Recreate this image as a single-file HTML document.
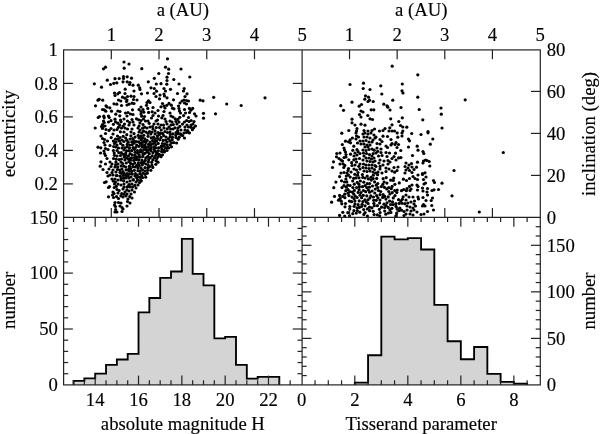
<!DOCTYPE html>
<html><head><meta charset="utf-8"><style>
html,body{margin:0;padding:0;background:#fff;width:600px;height:434px;overflow:hidden}
svg{display:block;will-change:transform}
text{font-family:"Liberation Serif",serif;font-size:18.7px;fill:#000;stroke:#000;stroke-width:0.15px}
</style></head><body>
<svg width="600" height="434" viewBox="0 0 600 434">
<rect width="600" height="434" fill="#fff"/>
<path d="M73.54,384.90 L73.54,380.90 L84.37,380.90 L84.37,378.40 L95.20,378.40 L95.20,373.65 L106.03,373.65 L106.03,364.90 L116.86,364.90 L116.86,359.50 L127.69,359.50 L127.69,353.90 L138.52,353.90 L138.52,312.40 L149.35,312.40 L149.35,298.00 L160.18,298.00 L160.18,277.90 L171.01,277.90 L171.01,271.50 L181.84,271.50 L181.84,238.80 L192.67,238.80 L192.67,273.80 L203.50,273.80 L203.50,285.30 L214.33,285.30 L214.33,338.40 L225.16,338.40 L225.16,336.90 L235.99,336.90 L235.99,364.80 L246.82,364.80 L246.82,378.60 L257.65,378.60 L257.65,376.80 L268.48,376.80 L268.48,376.80 L279.31,376.80 L279.31,384.90 Z" fill="#d4d4d4" stroke="none"/>
<path d="M73.54,384.90 L73.54,380.90 L84.37,380.90 L84.37,378.40 L95.20,378.40 L95.20,373.65 L106.03,373.65 L106.03,364.90 L116.86,364.90 L116.86,359.50 L127.69,359.50 L127.69,353.90 L138.52,353.90 L138.52,312.40 L149.35,312.40 L149.35,298.00 L160.18,298.00 L160.18,277.90 L171.01,277.90 L171.01,271.50 L181.84,271.50 L181.84,238.80 L192.67,238.80 L192.67,273.80 L203.50,273.80 L203.50,285.30 L214.33,285.30 L214.33,338.40 L225.16,338.40 L225.16,336.90 L235.99,336.90 L235.99,364.80 L246.82,364.80 L246.82,378.60 L257.65,378.60 L257.65,376.80 L268.48,376.80 L268.48,376.80 L279.31,376.80 L279.31,384.90" fill="none" stroke="#000" stroke-width="1.85" stroke-linejoin="miter"/>
<path d="M354.80,384.90 L354.80,382.60 L368.06,382.60 L368.06,355.20 L381.31,355.20 L381.31,236.60 L394.56,236.60 L394.56,239.40 L407.82,239.40 L407.82,238.10 L421.08,238.10 L421.08,249.50 L434.33,249.50 L434.33,304.90 L447.59,304.90 L447.59,341.20 L460.84,341.20 L460.84,359.20 L474.10,359.20 L474.10,347.00 L487.35,347.00 L487.35,373.90 L500.61,373.90 L500.61,381.80 L513.86,381.80 L513.86,383.60 L527.12,383.60 L527.12,384.90 Z" fill="#d4d4d4" stroke="none"/>
<path d="M354.80,384.90 L354.80,382.60 L368.06,382.60 L368.06,355.20 L381.31,355.20 L381.31,236.60 L394.56,236.60 L394.56,239.40 L407.82,239.40 L407.82,238.10 L421.08,238.10 L421.08,249.50 L434.33,249.50 L434.33,304.90 L447.59,304.90 L447.59,341.20 L460.84,341.20 L460.84,359.20 L474.10,359.20 L474.10,347.00 L487.35,347.00 L487.35,373.90 L500.61,373.90 L500.61,381.80 L513.86,381.80 L513.86,383.60 L527.12,383.60 L527.12,384.90" fill="none" stroke="#000" stroke-width="1.85" stroke-linejoin="miter"/>
<g fill="#000"><circle cx="103.5" cy="68.8" r="1.6"/><circle cx="105.5" cy="67.2" r="1.6"/><circle cx="107.3" cy="80.2" r="1.6"/><circle cx="115.0" cy="78.7" r="1.6"/><circle cx="119.2" cy="78.5" r="1.6"/><circle cx="94.3" cy="83.8" r="1.6"/><circle cx="101.5" cy="87.2" r="1.6"/><circle cx="110.5" cy="84.5" r="1.6"/><circle cx="113.8" cy="83.3" r="1.6"/><circle cx="116.8" cy="82.8" r="1.6"/><circle cx="124.0" cy="62.0" r="1.6"/><circle cx="129.0" cy="64.0" r="1.6"/><circle cx="124.2" cy="68.2" r="1.6"/><circle cx="141.8" cy="68.7" r="1.6"/><circle cx="167.5" cy="58.8" r="1.6"/><circle cx="165.5" cy="67.2" r="1.6"/><circle cx="168.7" cy="69.2" r="1.6"/><circle cx="158.8" cy="73.5" r="1.6"/><circle cx="168.5" cy="73.5" r="1.6"/><circle cx="123.5" cy="76.5" r="1.6"/><circle cx="123.5" cy="78.5" r="1.6"/><circle cx="127.2" cy="76.8" r="1.6"/><circle cx="131.5" cy="78.2" r="1.6"/><circle cx="123.0" cy="81.8" r="1.6"/><circle cx="127.2" cy="81.8" r="1.6"/><circle cx="130.0" cy="82.5" r="1.6"/><circle cx="129.5" cy="84.5" r="1.6"/><circle cx="133.0" cy="85.2" r="1.6"/><circle cx="138.3" cy="85.2" r="1.6"/><circle cx="139.7" cy="87.8" r="1.6"/><circle cx="140.0" cy="89.5" r="1.6"/><circle cx="125.2" cy="89.2" r="1.6"/><circle cx="134.0" cy="91.0" r="1.6"/><circle cx="148.3" cy="81.8" r="1.6"/><circle cx="154.3" cy="78.3" r="1.6"/><circle cx="156.3" cy="84.0" r="1.6"/><circle cx="161.0" cy="83.7" r="1.6"/><circle cx="167.0" cy="77.2" r="1.6"/><circle cx="167.0" cy="80.5" r="1.6"/><circle cx="166.8" cy="84.2" r="1.6"/><circle cx="173.8" cy="79.5" r="1.6"/><circle cx="179.0" cy="84.0" r="1.6"/><circle cx="151.0" cy="87.8" r="1.6"/><circle cx="154.3" cy="88.5" r="1.6"/><circle cx="164.0" cy="88.5" r="1.6"/><circle cx="170.5" cy="89.3" r="1.6"/><circle cx="156.5" cy="91.2" r="1.6"/><circle cx="165.5" cy="91.0" r="1.6"/><circle cx="181.0" cy="69.0" r="1.6"/><circle cx="189.8" cy="77.0" r="1.6"/><circle cx="184.2" cy="88.5" r="1.6"/><circle cx="183.5" cy="91.0" r="1.6"/><circle cx="98.0" cy="100.2" r="1.6"/><circle cx="99.2" cy="99.3" r="1.6"/><circle cx="102.7" cy="100.2" r="1.6"/><circle cx="95.5" cy="105.8" r="1.6"/><circle cx="106.0" cy="105.8" r="1.6"/><circle cx="107.0" cy="107.0" r="1.6"/><circle cx="109.8" cy="107.8" r="1.6"/><circle cx="102.5" cy="109.5" r="1.6"/><circle cx="104.2" cy="109.8" r="1.6"/><circle cx="105.8" cy="111.2" r="1.6"/><circle cx="111.5" cy="111.2" r="1.6"/><circle cx="114.5" cy="93.0" r="1.6"/><circle cx="115.0" cy="95.5" r="1.6"/><circle cx="117.8" cy="93.8" r="1.6"/><circle cx="119.5" cy="92.5" r="1.6"/><circle cx="122.5" cy="97.2" r="1.6"/><circle cx="118.5" cy="100.0" r="1.6"/><circle cx="120.8" cy="101.0" r="1.6"/><circle cx="114.0" cy="103.8" r="1.6"/><circle cx="116.8" cy="104.2" r="1.6"/><circle cx="121.5" cy="105.5" r="1.6"/><circle cx="117.8" cy="111.0" r="1.6"/><circle cx="120.0" cy="111.5" r="1.6"/><circle cx="115.8" cy="114.2" r="1.6"/><circle cx="119.8" cy="115.8" r="1.6"/><circle cx="98.2" cy="117.5" r="1.6"/><circle cx="99.5" cy="116.5" r="1.6"/><circle cx="103.8" cy="116.2" r="1.6"/><circle cx="104.2" cy="117.8" r="1.6"/><circle cx="108.5" cy="116.0" r="1.6"/><circle cx="109.2" cy="117.5" r="1.6"/><circle cx="115.0" cy="119.2" r="1.6"/><circle cx="115.5" cy="121.8" r="1.6"/><circle cx="120.5" cy="120.0" r="1.6"/><circle cx="121.0" cy="121.8" r="1.6"/><circle cx="103.5" cy="121.0" r="1.6"/><circle cx="104.2" cy="122.5" r="1.6"/><circle cx="108.5" cy="122.0" r="1.6"/><circle cx="102.5" cy="124.5" r="1.6"/><circle cx="101.5" cy="126.5" r="1.6"/><circle cx="103.0" cy="126.5" r="1.6"/><circle cx="105.0" cy="126.0" r="1.6"/><circle cx="102.5" cy="128.5" r="1.6"/><circle cx="95.2" cy="128.0" r="1.6"/><circle cx="111.0" cy="128.5" r="1.6"/><circle cx="114.0" cy="130.0" r="1.6"/><circle cx="117.0" cy="129.5" r="1.6"/><circle cx="121.5" cy="128.0" r="1.6"/><circle cx="106.0" cy="129.5" r="1.6"/><circle cx="125.0" cy="93.5" r="1.6"/><circle cx="141.5" cy="93.8" r="1.6"/><circle cx="147.5" cy="93.0" r="1.6"/><circle cx="154.0" cy="93.5" r="1.6"/><circle cx="156.0" cy="96.5" r="1.6"/><circle cx="160.0" cy="95.0" r="1.6"/><circle cx="164.0" cy="94.0" r="1.6"/><circle cx="164.5" cy="96.0" r="1.6"/><circle cx="167.0" cy="97.8" r="1.6"/><circle cx="177.5" cy="93.5" r="1.6"/><circle cx="159.5" cy="98.8" r="1.6"/><circle cx="173.5" cy="99.8" r="1.6"/><circle cx="127.5" cy="96.5" r="1.6"/><circle cx="131.0" cy="96.2" r="1.6"/><circle cx="134.0" cy="96.5" r="1.6"/><circle cx="125.0" cy="98.2" r="1.6"/><circle cx="127.0" cy="100.0" r="1.6"/><circle cx="133.5" cy="99.5" r="1.6"/><circle cx="137.0" cy="100.0" r="1.6"/><circle cx="126.5" cy="101.5" r="1.6"/><circle cx="148.5" cy="100.8" r="1.6"/><circle cx="147.0" cy="102.5" r="1.6"/><circle cx="150.0" cy="102.5" r="1.6"/><circle cx="182.0" cy="101.0" r="1.6"/><circle cx="132.0" cy="103.2" r="1.6"/><circle cx="134.0" cy="103.5" r="1.6"/><circle cx="127.0" cy="105.0" r="1.6"/><circle cx="129.0" cy="104.2" r="1.6"/><circle cx="162.5" cy="103.5" r="1.6"/><circle cx="180.0" cy="103.0" r="1.6"/><circle cx="153.0" cy="107.5" r="1.6"/><circle cx="161.0" cy="106.8" r="1.6"/><circle cx="164.0" cy="106.0" r="1.6"/><circle cx="165.0" cy="108.0" r="1.6"/><circle cx="172.5" cy="108.2" r="1.6"/><circle cx="174.0" cy="108.8" r="1.6"/><circle cx="178.5" cy="106.0" r="1.6"/><circle cx="179.0" cy="108.5" r="1.6"/><circle cx="141.0" cy="107.0" r="1.6"/><circle cx="132.5" cy="109.8" r="1.6"/><circle cx="139.0" cy="109.5" r="1.6"/><circle cx="143.0" cy="109.5" r="1.6"/><circle cx="141.0" cy="111.5" r="1.6"/><circle cx="158.0" cy="110.5" r="1.6"/><circle cx="164.0" cy="111.5" r="1.6"/><circle cx="179.5" cy="111.0" r="1.6"/><circle cx="180.5" cy="113.0" r="1.6"/><circle cx="125.5" cy="113.0" r="1.6"/><circle cx="128.0" cy="112.5" r="1.6"/><circle cx="130.5" cy="114.0" r="1.6"/><circle cx="133.0" cy="114.5" r="1.6"/><circle cx="127.0" cy="116.0" r="1.6"/><circle cx="141.0" cy="114.0" r="1.6"/><circle cx="155.0" cy="113.0" r="1.6"/><circle cx="153.0" cy="115.5" r="1.6"/><circle cx="158.5" cy="116.0" r="1.6"/><circle cx="163.0" cy="115.5" r="1.6"/><circle cx="170.0" cy="113.0" r="1.6"/><circle cx="171.0" cy="116.0" r="1.6"/><circle cx="173.0" cy="117.0" r="1.6"/><circle cx="144.5" cy="116.5" r="1.6"/><circle cx="151.5" cy="118.0" r="1.6"/><circle cx="136.5" cy="118.8" r="1.6"/><circle cx="124.0" cy="119.0" r="1.6"/><circle cx="127.5" cy="121.0" r="1.6"/><circle cx="132.0" cy="119.5" r="1.6"/><circle cx="133.0" cy="122.0" r="1.6"/><circle cx="141.0" cy="120.5" r="1.6"/><circle cx="143.5" cy="119.0" r="1.6"/><circle cx="145.5" cy="121.0" r="1.6"/><circle cx="148.0" cy="121.0" r="1.6"/><circle cx="156.0" cy="121.0" r="1.6"/><circle cx="157.5" cy="120.0" r="1.6"/><circle cx="165.0" cy="119.0" r="1.6"/><circle cx="166.0" cy="121.5" r="1.6"/><circle cx="170.0" cy="121.0" r="1.6"/><circle cx="172.0" cy="122.0" r="1.6"/><circle cx="176.0" cy="121.5" r="1.6"/><circle cx="179.0" cy="122.0" r="1.6"/><circle cx="124.5" cy="124.0" r="1.6"/><circle cx="129.0" cy="125.0" r="1.6"/><circle cx="134.0" cy="125.0" r="1.6"/><circle cx="140.0" cy="123.0" r="1.6"/><circle cx="139.0" cy="126.0" r="1.6"/><circle cx="143.0" cy="124.5" r="1.6"/><circle cx="154.0" cy="124.0" r="1.6"/><circle cx="158.0" cy="124.0" r="1.6"/><circle cx="161.0" cy="125.0" r="1.6"/><circle cx="167.0" cy="124.0" r="1.6"/><circle cx="171.0" cy="125.0" r="1.6"/><circle cx="177.0" cy="124.0" r="1.6"/><circle cx="125.0" cy="128.0" r="1.6"/><circle cx="127.5" cy="129.0" r="1.6"/><circle cx="132.0" cy="129.0" r="1.6"/><circle cx="138.0" cy="128.0" r="1.6"/><circle cx="140.0" cy="130.0" r="1.6"/><circle cx="147.0" cy="128.0" r="1.6"/><circle cx="150.0" cy="127.0" r="1.6"/><circle cx="153.0" cy="129.0" r="1.6"/><circle cx="159.5" cy="127.5" r="1.6"/><circle cx="164.0" cy="128.0" r="1.6"/><circle cx="169.0" cy="127.0" r="1.6"/><circle cx="173.0" cy="129.0" r="1.6"/><circle cx="178.0" cy="128.0" r="1.6"/><circle cx="181.0" cy="130.0" r="1.6"/><circle cx="124.0" cy="132.0" r="1.6"/><circle cx="131.0" cy="132.0" r="1.6"/><circle cx="139.0" cy="132.0" r="1.6"/><circle cx="146.0" cy="132.0" r="1.6"/><circle cx="152.0" cy="132.0" r="1.6"/><circle cx="158.0" cy="132.5" r="1.6"/><circle cx="165.0" cy="131.5" r="1.6"/><circle cx="170.0" cy="132.0" r="1.6"/><circle cx="176.0" cy="132.5" r="1.6"/><circle cx="187.0" cy="93.8" r="1.6"/><circle cx="185.0" cy="96.5" r="1.6"/><circle cx="184.0" cy="100.0" r="1.6"/><circle cx="186.5" cy="100.5" r="1.6"/><circle cx="188.5" cy="101.0" r="1.6"/><circle cx="184.5" cy="103.0" r="1.6"/><circle cx="186.5" cy="104.0" r="1.6"/><circle cx="200.2" cy="100.2" r="1.6"/><circle cx="203.0" cy="100.8" r="1.6"/><circle cx="213.7" cy="97.3" r="1.6"/><circle cx="226.7" cy="104.0" r="1.6"/><circle cx="241.2" cy="105.5" r="1.6"/><circle cx="184.5" cy="109.5" r="1.6"/><circle cx="185.5" cy="113.0" r="1.6"/><circle cx="189.5" cy="112.5" r="1.6"/><circle cx="194.5" cy="113.8" r="1.6"/><circle cx="196.0" cy="116.0" r="1.6"/><circle cx="203.5" cy="113.3" r="1.6"/><circle cx="215.5" cy="113.8" r="1.6"/><circle cx="203.5" cy="118.2" r="1.6"/><circle cx="188.5" cy="117.5" r="1.6"/><circle cx="184.5" cy="122.0" r="1.6"/><circle cx="189.0" cy="121.5" r="1.6"/><circle cx="194.0" cy="121.5" r="1.6"/><circle cx="193.0" cy="124.0" r="1.6"/><circle cx="195.5" cy="126.0" r="1.6"/><circle cx="187.0" cy="125.0" r="1.6"/><circle cx="185.0" cy="127.0" r="1.6"/><circle cx="188.5" cy="127.0" r="1.6"/><circle cx="191.0" cy="125.0" r="1.6"/><circle cx="185.0" cy="130.0" r="1.6"/><circle cx="187.5" cy="130.5" r="1.6"/><circle cx="186.5" cy="132.5" r="1.6"/><circle cx="184.0" cy="133.0" r="1.6"/><circle cx="265.0" cy="97.8" r="1.6"/><circle cx="105.5" cy="133.5" r="1.6"/><circle cx="113.0" cy="134.0" r="1.6"/><circle cx="101.0" cy="136.0" r="1.6"/><circle cx="102.5" cy="138.5" r="1.6"/><circle cx="104.5" cy="139.5" r="1.6"/><circle cx="107.5" cy="141.0" r="1.6"/><circle cx="115.5" cy="139.0" r="1.6"/><circle cx="117.5" cy="136.0" r="1.6"/><circle cx="120.0" cy="137.5" r="1.6"/><circle cx="119.5" cy="141.0" r="1.6"/><circle cx="104.0" cy="142.5" r="1.6"/><circle cx="105.0" cy="145.0" r="1.6"/><circle cx="110.0" cy="145.5" r="1.6"/><circle cx="114.5" cy="143.5" r="1.6"/><circle cx="117.0" cy="145.0" r="1.6"/><circle cx="98.0" cy="147.2" r="1.6"/><circle cx="100.8" cy="147.8" r="1.6"/><circle cx="105.5" cy="148.5" r="1.6"/><circle cx="108.0" cy="149.5" r="1.6"/><circle cx="116.0" cy="147.0" r="1.6"/><circle cx="118.5" cy="148.0" r="1.6"/><circle cx="122.0" cy="148.0" r="1.6"/><circle cx="104.0" cy="151.0" r="1.6"/><circle cx="117.0" cy="150.5" r="1.6"/><circle cx="100.5" cy="153.0" r="1.6"/><circle cx="104.5" cy="153.5" r="1.6"/><circle cx="105.5" cy="155.5" r="1.6"/><circle cx="114.2" cy="153.0" r="1.6"/><circle cx="117.0" cy="156.0" r="1.6"/><circle cx="120.5" cy="155.5" r="1.6"/><circle cx="107.0" cy="158.5" r="1.6"/><circle cx="113.5" cy="158.5" r="1.6"/><circle cx="121.5" cy="159.0" r="1.6"/><circle cx="101.0" cy="161.8" r="1.6"/><circle cx="105.5" cy="164.0" r="1.6"/><circle cx="110.0" cy="162.0" r="1.6"/><circle cx="112.0" cy="164.0" r="1.6"/><circle cx="118.0" cy="164.0" r="1.6"/><circle cx="121.0" cy="162.0" r="1.6"/><circle cx="100.2" cy="166.2" r="1.6"/><circle cx="111.0" cy="166.5" r="1.6"/><circle cx="115.0" cy="167.0" r="1.6"/><circle cx="103.0" cy="169.5" r="1.6"/><circle cx="109.0" cy="169.0" r="1.6"/><circle cx="113.0" cy="170.0" r="1.6"/><circle cx="117.5" cy="169.5" r="1.6"/><circle cx="122.0" cy="169.0" r="1.6"/><circle cx="107.0" cy="172.5" r="1.6"/><circle cx="112.0" cy="172.5" r="1.6"/><circle cx="116.0" cy="172.0" r="1.6"/><circle cx="120.0" cy="172.5" r="1.6"/><circle cx="104.5" cy="182.5" r="1.6"/><circle cx="106.2" cy="181.8" r="1.6"/><circle cx="108.5" cy="187.5" r="1.6"/><circle cx="109.5" cy="186.5" r="1.6"/><circle cx="108.5" cy="196.8" r="1.6"/><circle cx="108.0" cy="176.0" r="1.6"/><circle cx="113.0" cy="192.0" r="1.6"/><circle cx="112.5" cy="195.0" r="1.6"/><circle cx="114.0" cy="193.5" r="1.6"/><circle cx="113.5" cy="197.5" r="1.6"/><circle cx="117.0" cy="189.5" r="1.6"/><circle cx="118.0" cy="193.0" r="1.6"/><circle cx="118.5" cy="198.5" r="1.6"/><circle cx="114.5" cy="184.0" r="1.6"/><circle cx="115.5" cy="182.0" r="1.6"/><circle cx="112.0" cy="179.0" r="1.6"/><circle cx="115.0" cy="179.0" r="1.6"/><circle cx="118.0" cy="180.0" r="1.6"/><circle cx="121.0" cy="180.0" r="1.6"/><circle cx="110.0" cy="175.0" r="1.6"/><circle cx="113.0" cy="175.0" r="1.6"/><circle cx="117.0" cy="175.5" r="1.6"/><circle cx="120.0" cy="176.0" r="1.6"/><circle cx="123.0" cy="175.5" r="1.6"/><circle cx="115.0" cy="202.5" r="1.6"/><circle cx="114.5" cy="205.0" r="1.6"/><circle cx="115.5" cy="206.5" r="1.6"/><circle cx="118.5" cy="202.5" r="1.6"/><circle cx="121.0" cy="203.0" r="1.6"/><circle cx="120.0" cy="206.0" r="1.6"/><circle cx="122.0" cy="207.5" r="1.6"/><circle cx="123.0" cy="209.0" r="1.6"/><circle cx="122.0" cy="211.5" r="1.6"/><circle cx="115.0" cy="212.0" r="1.6"/><circle cx="117.0" cy="212.0" r="1.6"/><circle cx="127.5" cy="201.5" r="1.6"/><circle cx="130.0" cy="203.0" r="1.6"/><circle cx="127.0" cy="206.0" r="1.6"/><circle cx="132.0" cy="198.0" r="1.6"/><circle cx="121.0" cy="185.0" r="1.6"/><circle cx="124.0" cy="184.0" r="1.6"/><circle cx="127.0" cy="182.0" r="1.6"/><circle cx="130.0" cy="181.0" r="1.6"/><circle cx="133.0" cy="180.0" r="1.6"/><circle cx="136.0" cy="182.0" r="1.6"/><circle cx="126.0" cy="178.0" r="1.6"/><circle cx="131.0" cy="177.0" r="1.6"/><circle cx="135.0" cy="176.0" r="1.6"/><circle cx="139.0" cy="177.0" r="1.6"/><circle cx="123.0" cy="189.0" r="1.6"/><circle cx="125.0" cy="192.0" r="1.6"/><circle cx="127.0" cy="194.0" r="1.6"/><circle cx="129.0" cy="191.0" r="1.6"/><circle cx="132.0" cy="190.0" r="1.6"/><circle cx="134.5" cy="192.0" r="1.6"/><circle cx="136.0" cy="188.0" r="1.6"/><circle cx="138.0" cy="185.0" r="1.6"/><circle cx="123.0" cy="197.0" r="1.6"/><circle cx="126.0" cy="196.0" r="1.6"/><circle cx="130.0" cy="187.0" r="1.6"/><circle cx="127.0" cy="187.0" r="1.6"/><circle cx="124.0" cy="187.0" r="1.6"/><circle cx="132.0" cy="184.0" r="1.6"/><circle cx="128.0" cy="199.0" r="1.6"/><circle cx="146.5" cy="105.3" r="1.6"/><circle cx="169.0" cy="103.4" r="1.6"/><circle cx="166.8" cy="105.3" r="1.6"/><circle cx="171.3" cy="105.2" r="1.6"/><circle cx="141.7" cy="116.2" r="1.6"/><circle cx="148.6" cy="112.4" r="1.6"/><circle cx="147.8" cy="108.4" r="1.6"/><circle cx="143.8" cy="112.2" r="1.6"/><circle cx="152.2" cy="111.8" r="1.6"/><circle cx="161.8" cy="117.8" r="1.6"/><circle cx="179.8" cy="117.3" r="1.6"/><circle cx="190.9" cy="110.2" r="1.6"/><circle cx="189.4" cy="108.4" r="1.6"/><circle cx="192.7" cy="108.4" r="1.6"/><circle cx="183.6" cy="115.6" r="1.6"/><circle cx="111.0" cy="120.7" r="1.6"/><circle cx="138.6" cy="119.8" r="1.6"/><circle cx="175.2" cy="118.9" r="1.6"/><circle cx="177.8" cy="119.4" r="1.6"/><circle cx="186.6" cy="120.5" r="1.6"/><circle cx="191.1" cy="120.5" r="1.6"/><circle cx="113.4" cy="124.3" r="1.6"/><circle cx="119.7" cy="125.2" r="1.6"/><circle cx="117.8" cy="123.2" r="1.6"/><circle cx="118.4" cy="127.3" r="1.6"/><circle cx="123.2" cy="126.1" r="1.6"/><circle cx="129.7" cy="122.5" r="1.6"/><circle cx="149.2" cy="123.3" r="1.6"/><circle cx="152.6" cy="126.5" r="1.6"/><circle cx="144.7" cy="127.2" r="1.6"/><circle cx="156.3" cy="127.6" r="1.6"/><circle cx="163.5" cy="125.1" r="1.6"/><circle cx="173.3" cy="124.6" r="1.6"/><circle cx="179.8" cy="126.4" r="1.6"/><circle cx="182.5" cy="124.1" r="1.6"/><circle cx="175.0" cy="127.8" r="1.6"/><circle cx="193.7" cy="127.8" r="1.6"/><circle cx="191.0" cy="127.3" r="1.6"/><circle cx="109.1" cy="130.4" r="1.6"/><circle cx="120.4" cy="131.8" r="1.6"/><circle cx="141.7" cy="132.9" r="1.6"/><circle cx="134.0" cy="133.6" r="1.6"/><circle cx="142.6" cy="128.2" r="1.6"/><circle cx="143.6" cy="131.2" r="1.6"/><circle cx="147.9" cy="133.3" r="1.6"/><circle cx="149.5" cy="131.5" r="1.6"/><circle cx="161.2" cy="130.0" r="1.6"/><circle cx="162.6" cy="133.4" r="1.6"/><circle cx="155.0" cy="130.9" r="1.6"/><circle cx="155.1" cy="133.9" r="1.6"/><circle cx="160.4" cy="133.1" r="1.6"/><circle cx="167.5" cy="132.5" r="1.6"/><circle cx="170.6" cy="129.0" r="1.6"/><circle cx="167.2" cy="128.9" r="1.6"/><circle cx="172.9" cy="133.8" r="1.6"/><circle cx="177.6" cy="130.6" r="1.6"/><circle cx="180.4" cy="133.9" r="1.6"/><circle cx="178.0" cy="133.7" r="1.6"/><circle cx="178.0" cy="132.7" r="1.6"/><circle cx="192.4" cy="129.7" r="1.6"/><circle cx="189.4" cy="132.9" r="1.6"/><circle cx="188.0" cy="131.8" r="1.6"/><circle cx="111.2" cy="137.6" r="1.6"/><circle cx="123.2" cy="136.3" r="1.6"/><circle cx="125.7" cy="138.0" r="1.6"/><circle cx="126.8" cy="134.7" r="1.6"/><circle cx="130.9" cy="135.8" r="1.6"/><circle cx="138.2" cy="135.4" r="1.6"/><circle cx="142.5" cy="137.9" r="1.6"/><circle cx="135.1" cy="137.1" r="1.6"/><circle cx="140.9" cy="136.2" r="1.6"/><circle cx="139.0" cy="137.9" r="1.6"/><circle cx="150.8" cy="134.0" r="1.6"/><circle cx="151.2" cy="137.9" r="1.6"/><circle cx="143.8" cy="135.3" r="1.6"/><circle cx="148.1" cy="136.3" r="1.6"/><circle cx="153.6" cy="137.1" r="1.6"/><circle cx="161.0" cy="137.4" r="1.6"/><circle cx="157.5" cy="135.9" r="1.6"/><circle cx="159.5" cy="134.4" r="1.6"/><circle cx="153.7" cy="138.0" r="1.6"/><circle cx="172.5" cy="137.2" r="1.6"/><circle cx="166.1" cy="137.0" r="1.6"/><circle cx="170.1" cy="136.9" r="1.6"/><circle cx="163.7" cy="135.7" r="1.6"/><circle cx="170.3" cy="134.4" r="1.6"/><circle cx="179.3" cy="137.2" r="1.6"/><circle cx="176.0" cy="137.4" r="1.6"/><circle cx="182.6" cy="135.6" r="1.6"/><circle cx="175.7" cy="135.1" r="1.6"/><circle cx="181.4" cy="134.8" r="1.6"/><circle cx="184.5" cy="138.0" r="1.6"/><circle cx="120.6" cy="143.5" r="1.6"/><circle cx="116.1" cy="141.8" r="1.6"/><circle cx="122.9" cy="145.3" r="1.6"/><circle cx="113.4" cy="141.1" r="1.6"/><circle cx="121.9" cy="140.0" r="1.6"/><circle cx="118.0" cy="139.2" r="1.6"/><circle cx="113.7" cy="146.6" r="1.6"/><circle cx="128.2" cy="142.2" r="1.6"/><circle cx="132.3" cy="144.6" r="1.6"/><circle cx="129.5" cy="147.9" r="1.6"/><circle cx="127.2" cy="144.4" r="1.6"/><circle cx="124.8" cy="147.9" r="1.6"/><circle cx="130.0" cy="139.0" r="1.6"/><circle cx="131.8" cy="141.8" r="1.6"/><circle cx="132.7" cy="138.6" r="1.6"/><circle cx="123.9" cy="141.5" r="1.6"/><circle cx="127.1" cy="146.8" r="1.6"/><circle cx="133.0" cy="147.7" r="1.6"/><circle cx="126.7" cy="140.2" r="1.6"/><circle cx="129.7" cy="145.0" r="1.6"/><circle cx="136.2" cy="141.5" r="1.6"/><circle cx="134.2" cy="143.1" r="1.6"/><circle cx="139.0" cy="146.3" r="1.6"/><circle cx="142.8" cy="142.3" r="1.6"/><circle cx="141.3" cy="144.3" r="1.6"/><circle cx="141.2" cy="140.2" r="1.6"/><circle cx="136.7" cy="145.0" r="1.6"/><circle cx="138.5" cy="141.8" r="1.6"/><circle cx="142.2" cy="146.9" r="1.6"/><circle cx="133.9" cy="140.6" r="1.6"/><circle cx="135.8" cy="147.3" r="1.6"/><circle cx="142.6" cy="145.3" r="1.6"/><circle cx="140.9" cy="143.7" r="1.6"/><circle cx="141.3" cy="138.4" r="1.6"/><circle cx="140.2" cy="143.3" r="1.6"/><circle cx="147.2" cy="140.4" r="1.6"/><circle cx="151.3" cy="147.6" r="1.6"/><circle cx="146.2" cy="147.7" r="1.6"/><circle cx="148.5" cy="144.4" r="1.6"/><circle cx="152.6" cy="140.6" r="1.6"/><circle cx="150.1" cy="142.1" r="1.6"/><circle cx="145.8" cy="142.4" r="1.6"/><circle cx="144.9" cy="138.8" r="1.6"/><circle cx="152.5" cy="143.9" r="1.6"/><circle cx="148.5" cy="147.1" r="1.6"/><circle cx="145.1" cy="145.1" r="1.6"/><circle cx="150.3" cy="144.8" r="1.6"/><circle cx="150.5" cy="145.0" r="1.6"/><circle cx="144.3" cy="141.1" r="1.6"/><circle cx="144.6" cy="147.1" r="1.6"/><circle cx="158.2" cy="143.4" r="1.6"/><circle cx="161.4" cy="146.2" r="1.6"/><circle cx="154.0" cy="146.9" r="1.6"/><circle cx="158.6" cy="147.9" r="1.6"/><circle cx="156.5" cy="140.9" r="1.6"/><circle cx="162.4" cy="143.5" r="1.6"/><circle cx="155.8" cy="144.8" r="1.6"/><circle cx="159.7" cy="139.8" r="1.6"/><circle cx="157.5" cy="138.3" r="1.6"/><circle cx="163.0" cy="140.4" r="1.6"/><circle cx="154.6" cy="142.6" r="1.6"/><circle cx="155.1" cy="141.3" r="1.6"/><circle cx="155.9" cy="147.9" r="1.6"/><circle cx="154.8" cy="138.5" r="1.6"/><circle cx="161.3" cy="146.4" r="1.6"/><circle cx="165.6" cy="140.1" r="1.6"/><circle cx="170.0" cy="144.8" r="1.6"/><circle cx="167.1" cy="142.1" r="1.6"/><circle cx="171.6" cy="142.8" r="1.6"/><circle cx="167.0" cy="145.0" r="1.6"/><circle cx="169.9" cy="140.9" r="1.6"/><circle cx="165.6" cy="147.9" r="1.6"/><circle cx="171.5" cy="146.8" r="1.6"/><circle cx="168.4" cy="138.8" r="1.6"/><circle cx="164.9" cy="143.9" r="1.6"/><circle cx="163.8" cy="146.2" r="1.6"/><circle cx="172.2" cy="139.7" r="1.6"/><circle cx="168.7" cy="148.0" r="1.6"/><circle cx="167.7" cy="147.3" r="1.6"/><circle cx="176.6" cy="143.0" r="1.6"/><circle cx="178.2" cy="139.2" r="1.6"/><circle cx="173.9" cy="142.6" r="1.6"/><circle cx="121.3" cy="152.6" r="1.6"/><circle cx="118.7" cy="152.6" r="1.6"/><circle cx="114.4" cy="155.3" r="1.6"/><circle cx="113.4" cy="150.5" r="1.6"/><circle cx="123.9" cy="150.0" r="1.6"/><circle cx="124.2" cy="157.1" r="1.6"/><circle cx="132.2" cy="154.8" r="1.6"/><circle cx="125.8" cy="153.0" r="1.6"/><circle cx="131.7" cy="150.7" r="1.6"/><circle cx="123.3" cy="154.3" r="1.6"/><circle cx="128.5" cy="155.9" r="1.6"/><circle cx="130.1" cy="153.7" r="1.6"/><circle cx="126.6" cy="150.8" r="1.6"/><circle cx="131.5" cy="157.9" r="1.6"/><circle cx="125.7" cy="155.3" r="1.6"/><circle cx="126.6" cy="158.0" r="1.6"/><circle cx="129.0" cy="150.7" r="1.6"/><circle cx="137.0" cy="157.1" r="1.6"/><circle cx="142.2" cy="151.7" r="1.6"/><circle cx="139.2" cy="154.9" r="1.6"/><circle cx="135.1" cy="152.3" r="1.6"/><circle cx="140.6" cy="149.9" r="1.6"/><circle cx="135.0" cy="155.3" r="1.6"/><circle cx="142.6" cy="156.6" r="1.6"/><circle cx="134.4" cy="149.5" r="1.6"/><circle cx="137.4" cy="150.5" r="1.6"/><circle cx="142.9" cy="154.1" r="1.6"/><circle cx="139.6" cy="157.2" r="1.6"/><circle cx="134.3" cy="157.5" r="1.6"/><circle cx="137.5" cy="153.1" r="1.6"/><circle cx="139.6" cy="152.0" r="1.6"/><circle cx="145.2" cy="153.1" r="1.6"/><circle cx="147.9" cy="156.3" r="1.6"/><circle cx="152.9" cy="152.7" r="1.6"/><circle cx="145.8" cy="157.8" r="1.6"/><circle cx="146.4" cy="150.0" r="1.6"/><circle cx="149.3" cy="153.7" r="1.6"/><circle cx="152.3" cy="155.9" r="1.6"/><circle cx="143.8" cy="149.6" r="1.6"/><circle cx="148.7" cy="149.8" r="1.6"/><circle cx="147.4" cy="152.1" r="1.6"/><circle cx="150.8" cy="150.7" r="1.6"/><circle cx="150.3" cy="157.7" r="1.6"/><circle cx="143.8" cy="154.1" r="1.6"/><circle cx="150.6" cy="149.0" r="1.6"/><circle cx="147.9" cy="157.2" r="1.6"/><circle cx="156.6" cy="153.4" r="1.6"/><circle cx="155.4" cy="151.3" r="1.6"/><circle cx="154.4" cy="157.9" r="1.6"/><circle cx="161.6" cy="151.4" r="1.6"/><circle cx="159.3" cy="154.5" r="1.6"/><circle cx="158.2" cy="156.5" r="1.6"/><circle cx="155.6" cy="155.5" r="1.6"/><circle cx="158.4" cy="150.8" r="1.6"/><circle cx="161.7" cy="148.9" r="1.6"/><circle cx="161.0" cy="156.7" r="1.6"/><circle cx="162.5" cy="154.8" r="1.6"/><circle cx="154.0" cy="149.4" r="1.6"/><circle cx="157.7" cy="153.5" r="1.6"/><circle cx="159.7" cy="155.0" r="1.6"/><circle cx="167.0" cy="150.5" r="1.6"/><circle cx="164.5" cy="151.8" r="1.6"/><circle cx="163.2" cy="151.6" r="1.6"/><circle cx="163.9" cy="150.2" r="1.6"/><circle cx="121.1" cy="165.9" r="1.6"/><circle cx="115.9" cy="162.0" r="1.6"/><circle cx="115.6" cy="164.7" r="1.6"/><circle cx="122.7" cy="163.5" r="1.6"/><circle cx="119.2" cy="159.7" r="1.6"/><circle cx="116.2" cy="159.2" r="1.6"/><circle cx="117.7" cy="167.1" r="1.6"/><circle cx="128.9" cy="161.7" r="1.6"/><circle cx="125.8" cy="167.0" r="1.6"/><circle cx="124.9" cy="159.9" r="1.6"/><circle cx="129.4" cy="166.3" r="1.6"/><circle cx="132.9" cy="164.3" r="1.6"/><circle cx="126.3" cy="163.0" r="1.6"/><circle cx="130.8" cy="160.2" r="1.6"/><circle cx="130.6" cy="163.4" r="1.6"/><circle cx="132.8" cy="166.8" r="1.6"/><circle cx="128.7" cy="159.2" r="1.6"/><circle cx="123.7" cy="166.2" r="1.6"/><circle cx="129.8" cy="158.8" r="1.6"/><circle cx="129.9" cy="166.7" r="1.6"/><circle cx="134.8" cy="163.0" r="1.6"/><circle cx="136.8" cy="165.3" r="1.6"/><circle cx="141.9" cy="160.0" r="1.6"/><circle cx="140.9" cy="167.9" r="1.6"/><circle cx="136.4" cy="159.7" r="1.6"/><circle cx="141.2" cy="162.7" r="1.6"/><circle cx="133.8" cy="160.4" r="1.6"/><circle cx="138.4" cy="162.9" r="1.6"/><circle cx="135.2" cy="167.0" r="1.6"/><circle cx="138.7" cy="159.9" r="1.6"/><circle cx="142.3" cy="164.8" r="1.6"/><circle cx="139.2" cy="165.4" r="1.6"/><circle cx="137.9" cy="167.7" r="1.6"/><circle cx="136.3" cy="158.3" r="1.6"/><circle cx="146.0" cy="164.0" r="1.6"/><circle cx="148.4" cy="162.1" r="1.6"/><circle cx="151.7" cy="162.3" r="1.6"/><circle cx="149.9" cy="166.5" r="1.6"/><circle cx="152.8" cy="167.4" r="1.6"/><circle cx="143.6" cy="162.2" r="1.6"/><circle cx="145.0" cy="167.7" r="1.6"/><circle cx="145.3" cy="160.4" r="1.6"/><circle cx="148.1" cy="165.0" r="1.6"/><circle cx="152.8" cy="159.9" r="1.6"/><circle cx="148.1" cy="167.9" r="1.6"/><circle cx="152.0" cy="165.0" r="1.6"/><circle cx="148.7" cy="159.8" r="1.6"/><circle cx="143.7" cy="163.1" r="1.6"/><circle cx="148.0" cy="167.6" r="1.6"/><circle cx="158.0" cy="162.2" r="1.6"/><circle cx="155.8" cy="164.3" r="1.6"/><circle cx="156.1" cy="160.8" r="1.6"/><circle cx="156.9" cy="158.5" r="1.6"/><circle cx="122.9" cy="171.6" r="1.6"/><circle cx="119.9" cy="170.1" r="1.6"/><circle cx="121.1" cy="177.9" r="1.6"/><circle cx="116.4" cy="175.6" r="1.6"/><circle cx="121.4" cy="173.3" r="1.6"/><circle cx="132.3" cy="174.1" r="1.6"/><circle cx="129.0" cy="170.9" r="1.6"/><circle cx="130.7" cy="169.1" r="1.6"/><circle cx="129.5" cy="173.9" r="1.6"/><circle cx="128.8" cy="177.9" r="1.6"/><circle cx="126.1" cy="169.9" r="1.6"/><circle cx="127.0" cy="173.5" r="1.6"/><circle cx="131.6" cy="171.4" r="1.6"/><circle cx="124.3" cy="173.5" r="1.6"/><circle cx="125.6" cy="175.6" r="1.6"/><circle cx="127.9" cy="175.7" r="1.6"/><circle cx="128.4" cy="169.5" r="1.6"/><circle cx="129.7" cy="168.4" r="1.6"/><circle cx="137.3" cy="175.0" r="1.6"/><circle cx="141.7" cy="175.4" r="1.6"/><circle cx="137.9" cy="170.7" r="1.6"/><circle cx="134.3" cy="170.3" r="1.6"/><circle cx="143.0" cy="173.0" r="1.6"/><circle cx="139.9" cy="173.6" r="1.6"/><circle cx="135.4" cy="173.6" r="1.6"/><circle cx="140.2" cy="170.9" r="1.6"/><circle cx="142.6" cy="177.6" r="1.6"/><circle cx="136.7" cy="177.7" r="1.6"/><circle cx="142.5" cy="169.8" r="1.6"/><circle cx="140.3" cy="177.4" r="1.6"/><circle cx="145.0" cy="171.1" r="1.6"/><circle cx="145.7" cy="177.2" r="1.6"/><circle cx="147.3" cy="173.2" r="1.6"/><circle cx="147.6" cy="170.3" r="1.6"/><circle cx="150.8" cy="170.3" r="1.6"/><circle cx="145.1" cy="174.3" r="1.6"/><circle cx="118.0" cy="184.1" r="1.6"/><circle cx="113.2" cy="181.1" r="1.6"/><circle cx="116.3" cy="186.4" r="1.6"/><circle cx="114.3" cy="187.6" r="1.6"/><circle cx="123.6" cy="180.8" r="1.6"/><circle cx="129.3" cy="184.6" r="1.6"/><circle cx="132.5" cy="187.1" r="1.6"/><circle cx="123.7" cy="178.2" r="1.6"/><circle cx="128.1" cy="186.4" r="1.6"/><circle cx="129.0" cy="185.0" r="1.6"/><circle cx="140.6" cy="180.3" r="1.6"/><circle cx="134.8" cy="185.4" r="1.6"/><circle cx="139.5" cy="182.6" r="1.6"/><circle cx="137.6" cy="180.2" r="1.6"/><circle cx="133.4" cy="179.7" r="1.6"/><circle cx="141.3" cy="181.0" r="1.6"/><circle cx="121.7" cy="193.5" r="1.6"/><circle cx="120.9" cy="195.8" r="1.6"/><circle cx="119.1" cy="190.5" r="1.6"/><circle cx="116.5" cy="196.7" r="1.6"/><circle cx="131.0" cy="194.0" r="1.6"/><circle cx="129.7" cy="196.6" r="1.6"/><circle cx="126.9" cy="189.9" r="1.6"/><circle cx="124.0" cy="194.3" r="1.6"/><circle cx="115.6" cy="209.5" r="1.6"/></g>
<g fill="#000"><circle cx="350.0" cy="84.5" r="1.6"/><circle cx="392.2" cy="66.2" r="1.6"/><circle cx="417.8" cy="74.8" r="1.6"/><circle cx="363.5" cy="83.2" r="1.6"/><circle cx="363.2" cy="88.5" r="1.6"/><circle cx="370.0" cy="89.5" r="1.6"/><circle cx="380.8" cy="85.8" r="1.6"/><circle cx="402.3" cy="84.0" r="1.6"/><circle cx="402.0" cy="90.8" r="1.6"/><circle cx="352.0" cy="102.2" r="1.6"/><circle cx="340.8" cy="105.7" r="1.6"/><circle cx="343.5" cy="110.3" r="1.6"/><circle cx="359.2" cy="106.2" r="1.6"/><circle cx="361.5" cy="104.5" r="1.6"/><circle cx="361.0" cy="111.0" r="1.6"/><circle cx="359.5" cy="114.5" r="1.6"/><circle cx="361.0" cy="117.0" r="1.6"/><circle cx="352.0" cy="119.2" r="1.6"/><circle cx="352.0" cy="122.8" r="1.6"/><circle cx="355.0" cy="125.0" r="1.6"/><circle cx="357.0" cy="128.5" r="1.6"/><circle cx="361.0" cy="124.2" r="1.6"/><circle cx="348.8" cy="130.5" r="1.6"/><circle cx="356.5" cy="131.0" r="1.6"/><circle cx="381.8" cy="94.0" r="1.6"/><circle cx="403.0" cy="93.0" r="1.6"/><circle cx="417.8" cy="97.2" r="1.6"/><circle cx="365.5" cy="95.8" r="1.6"/><circle cx="368.5" cy="97.2" r="1.6"/><circle cx="364.8" cy="99.2" r="1.6"/><circle cx="369.5" cy="100.2" r="1.6"/><circle cx="368.0" cy="101.5" r="1.6"/><circle cx="373.2" cy="101.5" r="1.6"/><circle cx="392.8" cy="100.2" r="1.6"/><circle cx="383.8" cy="104.2" r="1.6"/><circle cx="387.0" cy="105.8" r="1.6"/><circle cx="387.8" cy="107.2" r="1.6"/><circle cx="390.0" cy="110.0" r="1.6"/><circle cx="401.0" cy="107.5" r="1.6"/><circle cx="419.2" cy="109.5" r="1.6"/><circle cx="371.2" cy="109.8" r="1.6"/><circle cx="373.8" cy="109.8" r="1.6"/><circle cx="363.0" cy="112.0" r="1.6"/><circle cx="367.8" cy="115.5" r="1.6"/><circle cx="370.0" cy="118.8" r="1.6"/><circle cx="372.5" cy="119.5" r="1.6"/><circle cx="390.7" cy="118.8" r="1.6"/><circle cx="402.3" cy="117.8" r="1.6"/><circle cx="398.8" cy="121.5" r="1.6"/><circle cx="365.0" cy="125.2" r="1.6"/><circle cx="392.0" cy="124.8" r="1.6"/><circle cx="400.5" cy="125.5" r="1.6"/><circle cx="402.8" cy="127.0" r="1.6"/><circle cx="406.8" cy="127.2" r="1.6"/><circle cx="385.0" cy="128.5" r="1.6"/><circle cx="389.8" cy="127.8" r="1.6"/><circle cx="374.5" cy="129.0" r="1.6"/><circle cx="364.0" cy="130.5" r="1.6"/><circle cx="368.0" cy="131.0" r="1.6"/><circle cx="372.0" cy="130.5" r="1.6"/><circle cx="379.5" cy="131.0" r="1.6"/><circle cx="383.0" cy="130.5" r="1.6"/><circle cx="389.0" cy="131.0" r="1.6"/><circle cx="392.0" cy="131.0" r="1.6"/><circle cx="394.5" cy="131.0" r="1.6"/><circle cx="402.8" cy="131.0" r="1.6"/><circle cx="465.2" cy="99.8" r="1.6"/><circle cx="441.0" cy="108.0" r="1.6"/><circle cx="441.3" cy="114.2" r="1.6"/><circle cx="422.8" cy="119.8" r="1.6"/><circle cx="442.0" cy="128.0" r="1.6"/><circle cx="428.0" cy="131.5" r="1.6"/><circle cx="356.0" cy="133.0" r="1.6"/><circle cx="356.5" cy="136.0" r="1.6"/><circle cx="356.0" cy="139.0" r="1.6"/><circle cx="358.5" cy="137.0" r="1.6"/><circle cx="360.0" cy="141.0" r="1.6"/><circle cx="357.5" cy="143.0" r="1.6"/><circle cx="361.0" cy="144.0" r="1.6"/><circle cx="345.5" cy="141.2" r="1.6"/><circle cx="348.5" cy="141.8" r="1.6"/><circle cx="350.5" cy="142.8" r="1.6"/><circle cx="342.3" cy="144.5" r="1.6"/><circle cx="353.8" cy="146.2" r="1.6"/><circle cx="344.0" cy="148.0" r="1.6"/><circle cx="344.5" cy="150.0" r="1.6"/><circle cx="345.5" cy="152.0" r="1.6"/><circle cx="352.8" cy="150.3" r="1.6"/><circle cx="336.8" cy="153.5" r="1.6"/><circle cx="340.0" cy="153.0" r="1.6"/><circle cx="346.0" cy="154.5" r="1.6"/><circle cx="350.5" cy="154.2" r="1.6"/><circle cx="355.0" cy="153.0" r="1.6"/><circle cx="354.0" cy="156.0" r="1.6"/><circle cx="357.0" cy="155.0" r="1.6"/><circle cx="360.0" cy="153.5" r="1.6"/><circle cx="336.5" cy="156.8" r="1.6"/><circle cx="339.0" cy="158.5" r="1.6"/><circle cx="344.0" cy="157.5" r="1.6"/><circle cx="346.0" cy="157.0" r="1.6"/><circle cx="348.8" cy="159.8" r="1.6"/><circle cx="341.0" cy="160.0" r="1.6"/><circle cx="342.5" cy="161.0" r="1.6"/><circle cx="356.0" cy="159.0" r="1.6"/><circle cx="359.5" cy="158.5" r="1.6"/><circle cx="333.5" cy="161.8" r="1.6"/><circle cx="340.0" cy="164.0" r="1.6"/><circle cx="343.0" cy="163.8" r="1.6"/><circle cx="356.5" cy="162.0" r="1.6"/><circle cx="352.0" cy="165.5" r="1.6"/><circle cx="355.0" cy="165.0" r="1.6"/><circle cx="360.0" cy="164.0" r="1.6"/><circle cx="332.5" cy="167.5" r="1.6"/><circle cx="343.8" cy="167.5" r="1.6"/><circle cx="348.5" cy="168.5" r="1.6"/><circle cx="348.0" cy="170.5" r="1.6"/><circle cx="354.0" cy="169.0" r="1.6"/><circle cx="356.5" cy="170.0" r="1.6"/><circle cx="360.0" cy="169.0" r="1.6"/><circle cx="341.0" cy="173.0" r="1.6"/><circle cx="344.0" cy="172.5" r="1.6"/><circle cx="347.0" cy="173.0" r="1.6"/><circle cx="351.0" cy="172.0" r="1.6"/><circle cx="358.0" cy="172.5" r="1.6"/><circle cx="402.0" cy="133.0" r="1.6"/><circle cx="402.0" cy="136.0" r="1.6"/><circle cx="411.7" cy="133.5" r="1.6"/><circle cx="421.0" cy="134.5" r="1.6"/><circle cx="397.8" cy="137.2" r="1.6"/><circle cx="408.5" cy="139.0" r="1.6"/><circle cx="409.5" cy="140.8" r="1.6"/><circle cx="396.0" cy="142.5" r="1.6"/><circle cx="398.5" cy="144.5" r="1.6"/><circle cx="395.0" cy="144.5" r="1.6"/><circle cx="397.0" cy="147.5" r="1.6"/><circle cx="408.5" cy="147.0" r="1.6"/><circle cx="417.2" cy="146.2" r="1.6"/><circle cx="418.0" cy="150.2" r="1.6"/><circle cx="400.8" cy="150.5" r="1.6"/><circle cx="395.5" cy="153.2" r="1.6"/><circle cx="412.5" cy="155.5" r="1.6"/><circle cx="417.5" cy="162.2" r="1.6"/><circle cx="406.0" cy="163.0" r="1.6"/><circle cx="409.0" cy="165.0" r="1.6"/><circle cx="411.5" cy="163.5" r="1.6"/><circle cx="405.0" cy="166.5" r="1.6"/><circle cx="408.0" cy="168.0" r="1.6"/><circle cx="412.0" cy="167.0" r="1.6"/><circle cx="416.5" cy="167.2" r="1.6"/><circle cx="406.0" cy="170.0" r="1.6"/><circle cx="409.5" cy="170.5" r="1.6"/><circle cx="405.0" cy="173.0" r="1.6"/><circle cx="412.0" cy="172.5" r="1.6"/><circle cx="414.0" cy="169.5" r="1.6"/><circle cx="383.0" cy="136.2" r="1.6"/><circle cx="387.5" cy="136.5" r="1.6"/><circle cx="391.0" cy="139.5" r="1.6"/><circle cx="380.0" cy="139.5" r="1.6"/><circle cx="382.0" cy="141.5" r="1.6"/><circle cx="377.0" cy="143.5" r="1.6"/><circle cx="380.0" cy="144.0" r="1.6"/><circle cx="386.0" cy="146.0" r="1.6"/><circle cx="387.5" cy="147.5" r="1.6"/><circle cx="391.0" cy="145.0" r="1.6"/><circle cx="392.0" cy="143.5" r="1.6"/><circle cx="377.0" cy="148.0" r="1.6"/><circle cx="381.0" cy="149.0" r="1.6"/><circle cx="376.0" cy="153.0" r="1.6"/><circle cx="381.0" cy="152.5" r="1.6"/><circle cx="386.0" cy="152.5" r="1.6"/><circle cx="389.5" cy="153.0" r="1.6"/><circle cx="378.5" cy="156.0" r="1.6"/><circle cx="382.0" cy="155.5" r="1.6"/><circle cx="387.0" cy="156.5" r="1.6"/><circle cx="394.0" cy="156.5" r="1.6"/><circle cx="392.0" cy="158.5" r="1.6"/><circle cx="396.0" cy="160.0" r="1.6"/><circle cx="380.0" cy="160.0" r="1.6"/><circle cx="384.0" cy="161.0" r="1.6"/><circle cx="388.0" cy="160.5" r="1.6"/><circle cx="379.0" cy="163.0" r="1.6"/><circle cx="383.0" cy="165.0" r="1.6"/><circle cx="388.0" cy="164.0" r="1.6"/><circle cx="390.0" cy="162.0" r="1.6"/><circle cx="394.0" cy="167.5" r="1.6"/><circle cx="398.0" cy="167.0" r="1.6"/><circle cx="386.0" cy="168.0" r="1.6"/><circle cx="389.0" cy="169.0" r="1.6"/><circle cx="380.0" cy="169.0" r="1.6"/><circle cx="376.0" cy="166.5" r="1.6"/><circle cx="392.0" cy="171.0" r="1.6"/><circle cx="386.0" cy="171.5" r="1.6"/><circle cx="397.0" cy="170.5" r="1.6"/><circle cx="378.0" cy="172.0" r="1.6"/><circle cx="382.0" cy="173.0" r="1.6"/><circle cx="363.0" cy="134.0" r="1.6"/><circle cx="365.0" cy="133.0" r="1.6"/><circle cx="368.0" cy="134.0" r="1.6"/><circle cx="371.0" cy="133.0" r="1.6"/><circle cx="374.0" cy="135.0" r="1.6"/><circle cx="376.0" cy="137.0" r="1.6"/><circle cx="364.0" cy="137.0" r="1.6"/><circle cx="367.0" cy="137.0" r="1.6"/><circle cx="370.0" cy="138.0" r="1.6"/><circle cx="373.0" cy="140.0" r="1.6"/><circle cx="375.0" cy="138.0" r="1.6"/><circle cx="363.0" cy="141.0" r="1.6"/><circle cx="366.0" cy="140.5" r="1.6"/><circle cx="369.0" cy="142.0" r="1.6"/><circle cx="372.0" cy="142.0" r="1.6"/><circle cx="364.0" cy="144.0" r="1.6"/><circle cx="367.0" cy="145.0" r="1.6"/><circle cx="370.0" cy="145.0" r="1.6"/><circle cx="365.0" cy="147.0" r="1.6"/><circle cx="368.0" cy="147.0" r="1.6"/><circle cx="363.0" cy="150.0" r="1.6"/><circle cx="366.0" cy="150.5" r="1.6"/><circle cx="369.0" cy="149.5" r="1.6"/><circle cx="372.0" cy="149.0" r="1.6"/><circle cx="363.5" cy="153.0" r="1.6"/><circle cx="366.5" cy="153.5" r="1.6"/><circle cx="369.5" cy="154.5" r="1.6"/><circle cx="372.0" cy="156.0" r="1.6"/><circle cx="364.0" cy="156.0" r="1.6"/><circle cx="366.0" cy="158.0" r="1.6"/><circle cx="369.0" cy="158.0" r="1.6"/><circle cx="371.5" cy="159.0" r="1.6"/><circle cx="374.0" cy="158.0" r="1.6"/><circle cx="363.0" cy="160.0" r="1.6"/><circle cx="367.0" cy="161.0" r="1.6"/><circle cx="370.0" cy="161.5" r="1.6"/><circle cx="373.0" cy="162.0" r="1.6"/><circle cx="375.0" cy="161.0" r="1.6"/><circle cx="363.5" cy="164.0" r="1.6"/><circle cx="366.0" cy="165.0" r="1.6"/><circle cx="369.0" cy="165.0" r="1.6"/><circle cx="372.0" cy="165.0" r="1.6"/><circle cx="375.0" cy="165.5" r="1.6"/><circle cx="363.0" cy="167.5" r="1.6"/><circle cx="366.0" cy="168.0" r="1.6"/><circle cx="369.0" cy="168.5" r="1.6"/><circle cx="372.0" cy="168.0" r="1.6"/><circle cx="374.5" cy="169.5" r="1.6"/><circle cx="364.0" cy="171.0" r="1.6"/><circle cx="367.0" cy="171.5" r="1.6"/><circle cx="370.0" cy="171.0" r="1.6"/><circle cx="373.0" cy="172.0" r="1.6"/><circle cx="375.5" cy="173.0" r="1.6"/><circle cx="428.0" cy="132.8" r="1.6"/><circle cx="432.8" cy="139.0" r="1.6"/><circle cx="430.3" cy="144.2" r="1.6"/><circle cx="423.0" cy="151.5" r="1.6"/><circle cx="423.8" cy="153.5" r="1.6"/><circle cx="423.5" cy="161.0" r="1.6"/><circle cx="425.5" cy="160.0" r="1.6"/><circle cx="423.0" cy="163.0" r="1.6"/><circle cx="427.0" cy="160.5" r="1.6"/><circle cx="429.2" cy="161.5" r="1.6"/><circle cx="429.8" cy="166.0" r="1.6"/><circle cx="454.0" cy="170.5" r="1.6"/><circle cx="425.0" cy="172.8" r="1.6"/><circle cx="422.5" cy="173.5" r="1.6"/><circle cx="503.3" cy="152.5" r="1.6"/><circle cx="442.0" cy="183.2" r="1.6"/><circle cx="438.5" cy="189.5" r="1.6"/><circle cx="452.0" cy="195.8" r="1.6"/><circle cx="433.5" cy="180.5" r="1.6"/><circle cx="434.5" cy="182.5" r="1.6"/><circle cx="432.0" cy="190.5" r="1.6"/><circle cx="434.0" cy="189.8" r="1.6"/><circle cx="427.5" cy="188.5" r="1.6"/><circle cx="427.0" cy="192.0" r="1.6"/><circle cx="427.5" cy="195.0" r="1.6"/><circle cx="432.5" cy="198.0" r="1.6"/><circle cx="431.2" cy="200.5" r="1.6"/><circle cx="431.8" cy="205.5" r="1.6"/><circle cx="433.5" cy="210.0" r="1.6"/><circle cx="427.5" cy="211.5" r="1.6"/><circle cx="426.0" cy="200.5" r="1.6"/><circle cx="423.0" cy="197.5" r="1.6"/><circle cx="423.5" cy="204.5" r="1.6"/><circle cx="425.0" cy="206.0" r="1.6"/><circle cx="422.5" cy="206.0" r="1.6"/><circle cx="424.0" cy="214.0" r="1.6"/><circle cx="421.0" cy="214.5" r="1.6"/><circle cx="417.0" cy="212.0" r="1.6"/><circle cx="418.0" cy="197.0" r="1.6"/><circle cx="418.5" cy="199.0" r="1.6"/><circle cx="414.5" cy="201.0" r="1.6"/><circle cx="413.0" cy="197.0" r="1.6"/><circle cx="423.0" cy="191.0" r="1.6"/><circle cx="422.5" cy="188.0" r="1.6"/><circle cx="424.0" cy="184.0" r="1.6"/><circle cx="425.5" cy="183.0" r="1.6"/><circle cx="426.0" cy="177.0" r="1.6"/><circle cx="423.5" cy="179.5" r="1.6"/><circle cx="417.5" cy="190.0" r="1.6"/><circle cx="417.0" cy="185.0" r="1.6"/><circle cx="418.0" cy="186.5" r="1.6"/><circle cx="412.0" cy="185.0" r="1.6"/><circle cx="411.0" cy="189.0" r="1.6"/><circle cx="410.0" cy="190.5" r="1.6"/><circle cx="407.0" cy="188.5" r="1.6"/><circle cx="406.5" cy="180.5" r="1.6"/><circle cx="409.5" cy="178.5" r="1.6"/><circle cx="413.0" cy="176.5" r="1.6"/><circle cx="415.0" cy="178.5" r="1.6"/><circle cx="417.5" cy="179.5" r="1.6"/><circle cx="418.0" cy="175.0" r="1.6"/><circle cx="422.5" cy="174.5" r="1.6"/><circle cx="406.0" cy="195.0" r="1.6"/><circle cx="409.0" cy="197.0" r="1.6"/><circle cx="406.0" cy="200.0" r="1.6"/><circle cx="411.0" cy="202.0" r="1.6"/><circle cx="414.0" cy="204.0" r="1.6"/><circle cx="407.0" cy="206.0" r="1.6"/><circle cx="410.0" cy="207.0" r="1.6"/><circle cx="413.0" cy="208.0" r="1.6"/><circle cx="415.5" cy="206.0" r="1.6"/><circle cx="407.0" cy="210.0" r="1.6"/><circle cx="411.0" cy="211.0" r="1.6"/><circle cx="414.0" cy="210.0" r="1.6"/><circle cx="406.0" cy="214.0" r="1.6"/><circle cx="410.0" cy="214.0" r="1.6"/><circle cx="413.0" cy="215.0" r="1.6"/><circle cx="479.3" cy="212.0" r="1.6"/><circle cx="341.8" cy="133.2" r="1.6"/><circle cx="397.2" cy="132.9" r="1.6"/><circle cx="350.1" cy="139.9" r="1.6"/><circle cx="352.4" cy="138.0" r="1.6"/><circle cx="357.0" cy="149.7" r="1.6"/><circle cx="358.1" cy="151.7" r="1.6"/><circle cx="373.2" cy="153.6" r="1.6"/><circle cx="374.1" cy="150.2" r="1.6"/><circle cx="377.7" cy="151.3" r="1.6"/><circle cx="398.6" cy="157.9" r="1.6"/><circle cx="400.9" cy="157.6" r="1.6"/><circle cx="344.8" cy="165.4" r="1.6"/><circle cx="358.8" cy="166.3" r="1.6"/><circle cx="353.8" cy="159.9" r="1.6"/><circle cx="351.6" cy="162.7" r="1.6"/><circle cx="380.1" cy="166.4" r="1.6"/><circle cx="339.6" cy="176.6" r="1.6"/><circle cx="348.4" cy="175.1" r="1.6"/><circle cx="346.3" cy="176.0" r="1.6"/><circle cx="354.8" cy="174.3" r="1.6"/><circle cx="356.0" cy="177.9" r="1.6"/><circle cx="350.2" cy="177.1" r="1.6"/><circle cx="357.6" cy="175.2" r="1.6"/><circle cx="359.0" cy="177.8" r="1.6"/><circle cx="367.2" cy="176.1" r="1.6"/><circle cx="365.1" cy="178.0" r="1.6"/><circle cx="362.8" cy="177.4" r="1.6"/><circle cx="362.4" cy="174.6" r="1.6"/><circle cx="377.6" cy="174.7" r="1.6"/><circle cx="373.3" cy="175.2" r="1.6"/><circle cx="371.0" cy="177.3" r="1.6"/><circle cx="386.2" cy="177.7" r="1.6"/><circle cx="393.7" cy="178.0" r="1.6"/><circle cx="394.7" cy="172.2" r="1.6"/><circle cx="335.9" cy="182.1" r="1.6"/><circle cx="333.8" cy="187.7" r="1.6"/><circle cx="346.3" cy="187.2" r="1.6"/><circle cx="347.8" cy="185.2" r="1.6"/><circle cx="344.0" cy="185.6" r="1.6"/><circle cx="341.5" cy="180.8" r="1.6"/><circle cx="344.5" cy="182.0" r="1.6"/><circle cx="345.9" cy="179.0" r="1.6"/><circle cx="346.8" cy="181.9" r="1.6"/><circle cx="342.0" cy="187.6" r="1.6"/><circle cx="353.7" cy="178.3" r="1.6"/><circle cx="354.3" cy="184.2" r="1.6"/><circle cx="352.7" cy="181.0" r="1.6"/><circle cx="352.9" cy="187.6" r="1.6"/><circle cx="357.3" cy="182.4" r="1.6"/><circle cx="350.1" cy="185.5" r="1.6"/><circle cx="356.6" cy="187.6" r="1.6"/><circle cx="359.4" cy="186.7" r="1.6"/><circle cx="358.9" cy="184.2" r="1.6"/><circle cx="363.8" cy="182.2" r="1.6"/><circle cx="365.1" cy="185.6" r="1.6"/><circle cx="368.4" cy="178.9" r="1.6"/><circle cx="360.4" cy="181.0" r="1.6"/><circle cx="369.7" cy="183.5" r="1.6"/><circle cx="362.5" cy="186.7" r="1.6"/><circle cx="369.4" cy="187.2" r="1.6"/><circle cx="367.3" cy="183.7" r="1.6"/><circle cx="366.8" cy="187.6" r="1.6"/><circle cx="376.2" cy="185.2" r="1.6"/><circle cx="377.8" cy="183.5" r="1.6"/><circle cx="372.5" cy="186.0" r="1.6"/><circle cx="371.3" cy="180.1" r="1.6"/><circle cx="373.2" cy="178.6" r="1.6"/><circle cx="376.7" cy="178.4" r="1.6"/><circle cx="377.8" cy="187.6" r="1.6"/><circle cx="374.6" cy="181.9" r="1.6"/><circle cx="384.4" cy="187.3" r="1.6"/><circle cx="384.1" cy="182.0" r="1.6"/><circle cx="388.8" cy="187.7" r="1.6"/><circle cx="382.8" cy="184.4" r="1.6"/><circle cx="383.1" cy="178.7" r="1.6"/><circle cx="381.3" cy="186.6" r="1.6"/><circle cx="386.9" cy="183.1" r="1.6"/><circle cx="394.9" cy="184.3" r="1.6"/><circle cx="393.3" cy="180.4" r="1.6"/><circle cx="399.3" cy="182.9" r="1.6"/><circle cx="390.7" cy="180.2" r="1.6"/><circle cx="392.1" cy="186.4" r="1.6"/><circle cx="403.4" cy="179.2" r="1.6"/><circle cx="409.5" cy="186.4" r="1.6"/><circle cx="339.6" cy="195.4" r="1.6"/><circle cx="334.5" cy="196.4" r="1.6"/><circle cx="344.7" cy="194.2" r="1.6"/><circle cx="344.9" cy="197.7" r="1.6"/><circle cx="348.9" cy="195.6" r="1.6"/><circle cx="348.0" cy="193.2" r="1.6"/><circle cx="349.9" cy="191.6" r="1.6"/><circle cx="348.0" cy="189.6" r="1.6"/><circle cx="342.7" cy="196.4" r="1.6"/><circle cx="345.8" cy="190.7" r="1.6"/><circle cx="353.7" cy="193.9" r="1.6"/><circle cx="355.2" cy="196.0" r="1.6"/><circle cx="360.0" cy="195.2" r="1.6"/><circle cx="352.0" cy="197.1" r="1.6"/><circle cx="358.1" cy="192.4" r="1.6"/><circle cx="357.1" cy="197.5" r="1.6"/><circle cx="354.4" cy="190.4" r="1.6"/><circle cx="359.1" cy="189.7" r="1.6"/><circle cx="352.3" cy="192.1" r="1.6"/><circle cx="365.7" cy="191.7" r="1.6"/><circle cx="361.6" cy="197.7" r="1.6"/><circle cx="368.4" cy="190.0" r="1.6"/><circle cx="363.3" cy="195.3" r="1.6"/><circle cx="363.4" cy="190.5" r="1.6"/><circle cx="369.6" cy="192.2" r="1.6"/><circle cx="366.8" cy="195.9" r="1.6"/><circle cx="369.9" cy="198.0" r="1.6"/><circle cx="361.0" cy="192.5" r="1.6"/><circle cx="380.0" cy="194.7" r="1.6"/><circle cx="378.4" cy="190.5" r="1.6"/><circle cx="377.9" cy="197.9" r="1.6"/><circle cx="372.1" cy="191.0" r="1.6"/><circle cx="374.8" cy="193.0" r="1.6"/><circle cx="370.8" cy="195.9" r="1.6"/><circle cx="376.7" cy="195.7" r="1.6"/><circle cx="373.4" cy="197.0" r="1.6"/><circle cx="375.3" cy="189.0" r="1.6"/><circle cx="384.7" cy="196.4" r="1.6"/><circle cx="386.7" cy="188.9" r="1.6"/><circle cx="388.2" cy="196.9" r="1.6"/><circle cx="388.8" cy="191.5" r="1.6"/><circle cx="383.1" cy="194.6" r="1.6"/><circle cx="380.7" cy="191.5" r="1.6"/><circle cx="389.9" cy="194.0" r="1.6"/><circle cx="382.6" cy="197.4" r="1.6"/><circle cx="397.2" cy="190.0" r="1.6"/><circle cx="395.0" cy="195.6" r="1.6"/><circle cx="391.3" cy="188.7" r="1.6"/><circle cx="394.7" cy="190.6" r="1.6"/><circle cx="396.8" cy="192.5" r="1.6"/><circle cx="392.2" cy="192.7" r="1.6"/><circle cx="393.3" cy="197.9" r="1.6"/><circle cx="401.5" cy="190.7" r="1.6"/><circle cx="406.4" cy="190.7" r="1.6"/><circle cx="403.1" cy="196.8" r="1.6"/><circle cx="403.7" cy="189.6" r="1.6"/><circle cx="331.6" cy="202.2" r="1.6"/><circle cx="338.5" cy="200.2" r="1.6"/><circle cx="345.5" cy="203.5" r="1.6"/><circle cx="341.8" cy="203.8" r="1.6"/><circle cx="341.2" cy="201.2" r="1.6"/><circle cx="345.0" cy="206.8" r="1.6"/><circle cx="349.4" cy="201.1" r="1.6"/><circle cx="349.9" cy="206.6" r="1.6"/><circle cx="340.1" cy="198.4" r="1.6"/><circle cx="358.1" cy="204.7" r="1.6"/><circle cx="351.6" cy="201.7" r="1.6"/><circle cx="354.1" cy="206.3" r="1.6"/><circle cx="354.9" cy="203.9" r="1.6"/><circle cx="359.2" cy="200.9" r="1.6"/><circle cx="354.9" cy="200.9" r="1.6"/><circle cx="359.3" cy="207.4" r="1.6"/><circle cx="354.0" cy="198.5" r="1.6"/><circle cx="357.0" cy="207.8" r="1.6"/><circle cx="361.5" cy="206.5" r="1.6"/><circle cx="368.0" cy="199.8" r="1.6"/><circle cx="365.0" cy="205.8" r="1.6"/><circle cx="369.5" cy="207.2" r="1.6"/><circle cx="366.3" cy="202.1" r="1.6"/><circle cx="362.1" cy="204.3" r="1.6"/><circle cx="368.1" cy="203.5" r="1.6"/><circle cx="364.9" cy="199.9" r="1.6"/><circle cx="362.9" cy="201.6" r="1.6"/><circle cx="373.7" cy="200.3" r="1.6"/><circle cx="371.9" cy="207.8" r="1.6"/><circle cx="376.2" cy="200.3" r="1.6"/><circle cx="377.4" cy="205.7" r="1.6"/><circle cx="379.6" cy="203.0" r="1.6"/><circle cx="373.9" cy="203.3" r="1.6"/><circle cx="374.3" cy="205.7" r="1.6"/><circle cx="380.0" cy="200.1" r="1.6"/><circle cx="389.6" cy="201.1" r="1.6"/><circle cx="385.9" cy="199.1" r="1.6"/><circle cx="388.2" cy="207.4" r="1.6"/><circle cx="384.6" cy="207.6" r="1.6"/><circle cx="387.0" cy="202.8" r="1.6"/><circle cx="384.0" cy="204.2" r="1.6"/><circle cx="381.6" cy="207.2" r="1.6"/><circle cx="386.0" cy="205.6" r="1.6"/><circle cx="399.2" cy="203.4" r="1.6"/><circle cx="399.8" cy="208.0" r="1.6"/><circle cx="392.5" cy="201.9" r="1.6"/><circle cx="398.5" cy="199.7" r="1.6"/><circle cx="390.6" cy="204.6" r="1.6"/><circle cx="396.0" cy="206.4" r="1.6"/><circle cx="395.9" cy="203.6" r="1.6"/><circle cx="393.2" cy="204.6" r="1.6"/><circle cx="407.8" cy="203.0" r="1.6"/><circle cx="402.0" cy="203.3" r="1.6"/><circle cx="404.8" cy="203.7" r="1.6"/><circle cx="400.8" cy="201.1" r="1.6"/><circle cx="402.3" cy="199.3" r="1.6"/><circle cx="339.6" cy="215.4" r="1.6"/><circle cx="342.8" cy="212.3" r="1.6"/><circle cx="347.8" cy="212.7" r="1.6"/><circle cx="344.7" cy="216.1" r="1.6"/><circle cx="349.7" cy="209.0" r="1.6"/><circle cx="349.5" cy="215.8" r="1.6"/><circle cx="357.3" cy="210.5" r="1.6"/><circle cx="356.3" cy="213.1" r="1.6"/><circle cx="353.9" cy="210.7" r="1.6"/><circle cx="352.8" cy="213.7" r="1.6"/><circle cx="359.8" cy="212.2" r="1.6"/><circle cx="363.9" cy="214.4" r="1.6"/><circle cx="367.4" cy="208.9" r="1.6"/><circle cx="363.7" cy="209.6" r="1.6"/><circle cx="365.1" cy="212.5" r="1.6"/><circle cx="367.4" cy="216.0" r="1.6"/><circle cx="369.6" cy="210.7" r="1.6"/><circle cx="374.1" cy="214.6" r="1.6"/><circle cx="379.4" cy="209.3" r="1.6"/><circle cx="379.7" cy="215.8" r="1.6"/><circle cx="373.2" cy="211.3" r="1.6"/><circle cx="377.3" cy="214.8" r="1.6"/><circle cx="388.4" cy="213.0" r="1.6"/><circle cx="384.7" cy="211.1" r="1.6"/><circle cx="380.1" cy="212.5" r="1.6"/><circle cx="385.8" cy="214.2" r="1.6"/><circle cx="389.9" cy="209.8" r="1.6"/><circle cx="391.9" cy="208.3" r="1.6"/><circle cx="390.9" cy="212.4" r="1.6"/><circle cx="395.8" cy="216.0" r="1.6"/><circle cx="397.1" cy="208.7" r="1.6"/><circle cx="398.9" cy="210.7" r="1.6"/><circle cx="396.6" cy="213.4" r="1.6"/><circle cx="401.4" cy="210.2" r="1.6"/><circle cx="404.0" cy="215.6" r="1.6"/><circle cx="404.0" cy="211.5" r="1.6"/></g>
<line x1="111.30" y1="49.90" x2="111.30" y2="59.20" stroke="#222" stroke-width="1.2"/>
<line x1="111.30" y1="217.40" x2="111.30" y2="208.10" stroke="#222" stroke-width="1.2"/>
<line x1="349.53" y1="49.90" x2="349.53" y2="59.20" stroke="#222" stroke-width="1.2"/>
<line x1="349.53" y1="217.40" x2="349.53" y2="208.10" stroke="#222" stroke-width="1.2"/>
<line x1="159.03" y1="49.90" x2="159.03" y2="59.20" stroke="#222" stroke-width="1.2"/>
<line x1="159.03" y1="217.40" x2="159.03" y2="208.10" stroke="#222" stroke-width="1.2"/>
<line x1="397.16" y1="49.90" x2="397.16" y2="59.20" stroke="#222" stroke-width="1.2"/>
<line x1="397.16" y1="217.40" x2="397.16" y2="208.10" stroke="#222" stroke-width="1.2"/>
<line x1="206.76" y1="49.90" x2="206.76" y2="59.20" stroke="#222" stroke-width="1.2"/>
<line x1="206.76" y1="217.40" x2="206.76" y2="208.10" stroke="#222" stroke-width="1.2"/>
<line x1="444.79" y1="49.90" x2="444.79" y2="59.20" stroke="#222" stroke-width="1.2"/>
<line x1="444.79" y1="217.40" x2="444.79" y2="208.10" stroke="#222" stroke-width="1.2"/>
<line x1="254.49" y1="49.90" x2="254.49" y2="59.20" stroke="#222" stroke-width="1.2"/>
<line x1="254.49" y1="217.40" x2="254.49" y2="208.10" stroke="#222" stroke-width="1.2"/>
<line x1="492.42" y1="49.90" x2="492.42" y2="59.20" stroke="#222" stroke-width="1.2"/>
<line x1="492.42" y1="217.40" x2="492.42" y2="208.10" stroke="#222" stroke-width="1.2"/>
<line x1="63.60" y1="183.90" x2="72.90" y2="183.90" stroke="#222" stroke-width="1.2"/>
<line x1="302.10" y1="183.90" x2="292.80" y2="183.90" stroke="#222" stroke-width="1.2"/>
<line x1="63.60" y1="150.40" x2="72.90" y2="150.40" stroke="#222" stroke-width="1.2"/>
<line x1="302.10" y1="150.40" x2="292.80" y2="150.40" stroke="#222" stroke-width="1.2"/>
<line x1="63.60" y1="116.90" x2="72.90" y2="116.90" stroke="#222" stroke-width="1.2"/>
<line x1="302.10" y1="116.90" x2="292.80" y2="116.90" stroke="#222" stroke-width="1.2"/>
<line x1="63.60" y1="83.40" x2="72.90" y2="83.40" stroke="#222" stroke-width="1.2"/>
<line x1="302.10" y1="83.40" x2="292.80" y2="83.40" stroke="#222" stroke-width="1.2"/>
<line x1="302.10" y1="175.40" x2="311.40" y2="175.40" stroke="#222" stroke-width="1.2"/>
<line x1="540.30" y1="175.40" x2="531.00" y2="175.40" stroke="#222" stroke-width="1.2"/>
<line x1="302.10" y1="133.40" x2="311.40" y2="133.40" stroke="#222" stroke-width="1.2"/>
<line x1="540.30" y1="133.40" x2="531.00" y2="133.40" stroke="#222" stroke-width="1.2"/>
<line x1="302.10" y1="91.40" x2="311.40" y2="91.40" stroke="#222" stroke-width="1.2"/>
<line x1="540.30" y1="91.40" x2="531.00" y2="91.40" stroke="#222" stroke-width="1.2"/>
<line x1="73.54" y1="217.40" x2="73.54" y2="222.00" stroke="#222" stroke-width="1.2"/>
<line x1="73.54" y1="384.90" x2="73.54" y2="380.30" stroke="#222" stroke-width="1.2"/>
<line x1="84.37" y1="217.40" x2="84.37" y2="222.00" stroke="#222" stroke-width="1.2"/>
<line x1="84.37" y1="384.90" x2="84.37" y2="380.30" stroke="#222" stroke-width="1.2"/>
<line x1="95.20" y1="217.40" x2="95.20" y2="226.70" stroke="#222" stroke-width="1.2"/>
<line x1="95.20" y1="384.90" x2="95.20" y2="375.60" stroke="#222" stroke-width="1.2"/>
<line x1="106.03" y1="217.40" x2="106.03" y2="222.00" stroke="#222" stroke-width="1.2"/>
<line x1="106.03" y1="384.90" x2="106.03" y2="380.30" stroke="#222" stroke-width="1.2"/>
<line x1="116.86" y1="217.40" x2="116.86" y2="222.00" stroke="#222" stroke-width="1.2"/>
<line x1="116.86" y1="384.90" x2="116.86" y2="380.30" stroke="#222" stroke-width="1.2"/>
<line x1="127.69" y1="217.40" x2="127.69" y2="222.00" stroke="#222" stroke-width="1.2"/>
<line x1="127.69" y1="384.90" x2="127.69" y2="380.30" stroke="#222" stroke-width="1.2"/>
<line x1="138.52" y1="217.40" x2="138.52" y2="226.70" stroke="#222" stroke-width="1.2"/>
<line x1="138.52" y1="384.90" x2="138.52" y2="375.60" stroke="#222" stroke-width="1.2"/>
<line x1="149.35" y1="217.40" x2="149.35" y2="222.00" stroke="#222" stroke-width="1.2"/>
<line x1="149.35" y1="384.90" x2="149.35" y2="380.30" stroke="#222" stroke-width="1.2"/>
<line x1="160.18" y1="217.40" x2="160.18" y2="222.00" stroke="#222" stroke-width="1.2"/>
<line x1="160.18" y1="384.90" x2="160.18" y2="380.30" stroke="#222" stroke-width="1.2"/>
<line x1="171.01" y1="217.40" x2="171.01" y2="222.00" stroke="#222" stroke-width="1.2"/>
<line x1="171.01" y1="384.90" x2="171.01" y2="380.30" stroke="#222" stroke-width="1.2"/>
<line x1="181.84" y1="217.40" x2="181.84" y2="226.70" stroke="#222" stroke-width="1.2"/>
<line x1="181.84" y1="384.90" x2="181.84" y2="375.60" stroke="#222" stroke-width="1.2"/>
<line x1="192.67" y1="217.40" x2="192.67" y2="222.00" stroke="#222" stroke-width="1.2"/>
<line x1="192.67" y1="384.90" x2="192.67" y2="380.30" stroke="#222" stroke-width="1.2"/>
<line x1="203.50" y1="217.40" x2="203.50" y2="222.00" stroke="#222" stroke-width="1.2"/>
<line x1="203.50" y1="384.90" x2="203.50" y2="380.30" stroke="#222" stroke-width="1.2"/>
<line x1="214.33" y1="217.40" x2="214.33" y2="222.00" stroke="#222" stroke-width="1.2"/>
<line x1="214.33" y1="384.90" x2="214.33" y2="380.30" stroke="#222" stroke-width="1.2"/>
<line x1="225.16" y1="217.40" x2="225.16" y2="226.70" stroke="#222" stroke-width="1.2"/>
<line x1="225.16" y1="384.90" x2="225.16" y2="375.60" stroke="#222" stroke-width="1.2"/>
<line x1="235.99" y1="217.40" x2="235.99" y2="222.00" stroke="#222" stroke-width="1.2"/>
<line x1="235.99" y1="384.90" x2="235.99" y2="380.30" stroke="#222" stroke-width="1.2"/>
<line x1="246.82" y1="217.40" x2="246.82" y2="222.00" stroke="#222" stroke-width="1.2"/>
<line x1="246.82" y1="384.90" x2="246.82" y2="380.30" stroke="#222" stroke-width="1.2"/>
<line x1="257.65" y1="217.40" x2="257.65" y2="222.00" stroke="#222" stroke-width="1.2"/>
<line x1="257.65" y1="384.90" x2="257.65" y2="380.30" stroke="#222" stroke-width="1.2"/>
<line x1="268.48" y1="217.40" x2="268.48" y2="226.70" stroke="#222" stroke-width="1.2"/>
<line x1="268.48" y1="384.90" x2="268.48" y2="375.60" stroke="#222" stroke-width="1.2"/>
<line x1="279.31" y1="217.40" x2="279.31" y2="222.00" stroke="#222" stroke-width="1.2"/>
<line x1="279.31" y1="384.90" x2="279.31" y2="380.30" stroke="#222" stroke-width="1.2"/>
<line x1="290.14" y1="217.40" x2="290.14" y2="222.00" stroke="#222" stroke-width="1.2"/>
<line x1="290.14" y1="384.90" x2="290.14" y2="380.30" stroke="#222" stroke-width="1.2"/>
<line x1="63.60" y1="373.72" x2="68.20" y2="373.72" stroke="#222" stroke-width="1.2"/>
<line x1="302.10" y1="373.72" x2="297.50" y2="373.72" stroke="#222" stroke-width="1.2"/>
<line x1="63.60" y1="362.54" x2="68.20" y2="362.54" stroke="#222" stroke-width="1.2"/>
<line x1="302.10" y1="362.54" x2="297.50" y2="362.54" stroke="#222" stroke-width="1.2"/>
<line x1="63.60" y1="351.36" x2="68.20" y2="351.36" stroke="#222" stroke-width="1.2"/>
<line x1="302.10" y1="351.36" x2="297.50" y2="351.36" stroke="#222" stroke-width="1.2"/>
<line x1="63.60" y1="340.18" x2="68.20" y2="340.18" stroke="#222" stroke-width="1.2"/>
<line x1="302.10" y1="340.18" x2="297.50" y2="340.18" stroke="#222" stroke-width="1.2"/>
<line x1="63.60" y1="329.00" x2="72.90" y2="329.00" stroke="#222" stroke-width="1.2"/>
<line x1="302.10" y1="329.00" x2="292.80" y2="329.00" stroke="#222" stroke-width="1.2"/>
<line x1="63.60" y1="317.82" x2="68.20" y2="317.82" stroke="#222" stroke-width="1.2"/>
<line x1="302.10" y1="317.82" x2="297.50" y2="317.82" stroke="#222" stroke-width="1.2"/>
<line x1="63.60" y1="306.64" x2="68.20" y2="306.64" stroke="#222" stroke-width="1.2"/>
<line x1="302.10" y1="306.64" x2="297.50" y2="306.64" stroke="#222" stroke-width="1.2"/>
<line x1="63.60" y1="295.46" x2="68.20" y2="295.46" stroke="#222" stroke-width="1.2"/>
<line x1="302.10" y1="295.46" x2="297.50" y2="295.46" stroke="#222" stroke-width="1.2"/>
<line x1="63.60" y1="284.28" x2="68.20" y2="284.28" stroke="#222" stroke-width="1.2"/>
<line x1="302.10" y1="284.28" x2="297.50" y2="284.28" stroke="#222" stroke-width="1.2"/>
<line x1="63.60" y1="273.10" x2="72.90" y2="273.10" stroke="#222" stroke-width="1.2"/>
<line x1="302.10" y1="273.10" x2="292.80" y2="273.10" stroke="#222" stroke-width="1.2"/>
<line x1="63.60" y1="261.92" x2="68.20" y2="261.92" stroke="#222" stroke-width="1.2"/>
<line x1="302.10" y1="261.92" x2="297.50" y2="261.92" stroke="#222" stroke-width="1.2"/>
<line x1="63.60" y1="250.74" x2="68.20" y2="250.74" stroke="#222" stroke-width="1.2"/>
<line x1="302.10" y1="250.74" x2="297.50" y2="250.74" stroke="#222" stroke-width="1.2"/>
<line x1="63.60" y1="239.56" x2="68.20" y2="239.56" stroke="#222" stroke-width="1.2"/>
<line x1="302.10" y1="239.56" x2="297.50" y2="239.56" stroke="#222" stroke-width="1.2"/>
<line x1="63.60" y1="228.38" x2="68.20" y2="228.38" stroke="#222" stroke-width="1.2"/>
<line x1="302.10" y1="228.38" x2="297.50" y2="228.38" stroke="#222" stroke-width="1.2"/>
<line x1="315.04" y1="217.40" x2="315.04" y2="222.00" stroke="#222" stroke-width="1.2"/>
<line x1="315.04" y1="384.90" x2="315.04" y2="380.30" stroke="#222" stroke-width="1.2"/>
<line x1="328.29" y1="217.40" x2="328.29" y2="222.00" stroke="#222" stroke-width="1.2"/>
<line x1="328.29" y1="384.90" x2="328.29" y2="380.30" stroke="#222" stroke-width="1.2"/>
<line x1="341.55" y1="217.40" x2="341.55" y2="222.00" stroke="#222" stroke-width="1.2"/>
<line x1="341.55" y1="384.90" x2="341.55" y2="380.30" stroke="#222" stroke-width="1.2"/>
<line x1="354.80" y1="217.40" x2="354.80" y2="226.70" stroke="#222" stroke-width="1.2"/>
<line x1="354.80" y1="384.90" x2="354.80" y2="375.60" stroke="#222" stroke-width="1.2"/>
<line x1="368.06" y1="217.40" x2="368.06" y2="222.00" stroke="#222" stroke-width="1.2"/>
<line x1="368.06" y1="384.90" x2="368.06" y2="380.30" stroke="#222" stroke-width="1.2"/>
<line x1="381.31" y1="217.40" x2="381.31" y2="222.00" stroke="#222" stroke-width="1.2"/>
<line x1="381.31" y1="384.90" x2="381.31" y2="380.30" stroke="#222" stroke-width="1.2"/>
<line x1="394.56" y1="217.40" x2="394.56" y2="222.00" stroke="#222" stroke-width="1.2"/>
<line x1="394.56" y1="384.90" x2="394.56" y2="380.30" stroke="#222" stroke-width="1.2"/>
<line x1="407.82" y1="217.40" x2="407.82" y2="226.70" stroke="#222" stroke-width="1.2"/>
<line x1="407.82" y1="384.90" x2="407.82" y2="375.60" stroke="#222" stroke-width="1.2"/>
<line x1="421.08" y1="217.40" x2="421.08" y2="222.00" stroke="#222" stroke-width="1.2"/>
<line x1="421.08" y1="384.90" x2="421.08" y2="380.30" stroke="#222" stroke-width="1.2"/>
<line x1="434.33" y1="217.40" x2="434.33" y2="222.00" stroke="#222" stroke-width="1.2"/>
<line x1="434.33" y1="384.90" x2="434.33" y2="380.30" stroke="#222" stroke-width="1.2"/>
<line x1="447.59" y1="217.40" x2="447.59" y2="222.00" stroke="#222" stroke-width="1.2"/>
<line x1="447.59" y1="384.90" x2="447.59" y2="380.30" stroke="#222" stroke-width="1.2"/>
<line x1="460.84" y1="217.40" x2="460.84" y2="226.70" stroke="#222" stroke-width="1.2"/>
<line x1="460.84" y1="384.90" x2="460.84" y2="375.60" stroke="#222" stroke-width="1.2"/>
<line x1="474.10" y1="217.40" x2="474.10" y2="222.00" stroke="#222" stroke-width="1.2"/>
<line x1="474.10" y1="384.90" x2="474.10" y2="380.30" stroke="#222" stroke-width="1.2"/>
<line x1="487.35" y1="217.40" x2="487.35" y2="222.00" stroke="#222" stroke-width="1.2"/>
<line x1="487.35" y1="384.90" x2="487.35" y2="380.30" stroke="#222" stroke-width="1.2"/>
<line x1="500.61" y1="217.40" x2="500.61" y2="222.00" stroke="#222" stroke-width="1.2"/>
<line x1="500.61" y1="384.90" x2="500.61" y2="380.30" stroke="#222" stroke-width="1.2"/>
<line x1="513.86" y1="217.40" x2="513.86" y2="226.70" stroke="#222" stroke-width="1.2"/>
<line x1="513.86" y1="384.90" x2="513.86" y2="375.60" stroke="#222" stroke-width="1.2"/>
<line x1="527.12" y1="217.40" x2="527.12" y2="222.00" stroke="#222" stroke-width="1.2"/>
<line x1="527.12" y1="384.90" x2="527.12" y2="380.30" stroke="#222" stroke-width="1.2"/>
<line x1="302.10" y1="375.59" x2="306.70" y2="375.59" stroke="#222" stroke-width="1.2"/>
<line x1="540.30" y1="375.59" x2="535.70" y2="375.59" stroke="#222" stroke-width="1.2"/>
<line x1="302.10" y1="366.29" x2="306.70" y2="366.29" stroke="#222" stroke-width="1.2"/>
<line x1="540.30" y1="366.29" x2="535.70" y2="366.29" stroke="#222" stroke-width="1.2"/>
<line x1="302.10" y1="356.98" x2="306.70" y2="356.98" stroke="#222" stroke-width="1.2"/>
<line x1="540.30" y1="356.98" x2="535.70" y2="356.98" stroke="#222" stroke-width="1.2"/>
<line x1="302.10" y1="347.68" x2="306.70" y2="347.68" stroke="#222" stroke-width="1.2"/>
<line x1="540.30" y1="347.68" x2="535.70" y2="347.68" stroke="#222" stroke-width="1.2"/>
<line x1="302.10" y1="338.38" x2="311.40" y2="338.38" stroke="#222" stroke-width="1.2"/>
<line x1="540.30" y1="338.38" x2="531.00" y2="338.38" stroke="#222" stroke-width="1.2"/>
<line x1="302.10" y1="329.07" x2="306.70" y2="329.07" stroke="#222" stroke-width="1.2"/>
<line x1="540.30" y1="329.07" x2="535.70" y2="329.07" stroke="#222" stroke-width="1.2"/>
<line x1="302.10" y1="319.76" x2="306.70" y2="319.76" stroke="#222" stroke-width="1.2"/>
<line x1="540.30" y1="319.76" x2="535.70" y2="319.76" stroke="#222" stroke-width="1.2"/>
<line x1="302.10" y1="310.46" x2="306.70" y2="310.46" stroke="#222" stroke-width="1.2"/>
<line x1="540.30" y1="310.46" x2="535.70" y2="310.46" stroke="#222" stroke-width="1.2"/>
<line x1="302.10" y1="301.15" x2="306.70" y2="301.15" stroke="#222" stroke-width="1.2"/>
<line x1="540.30" y1="301.15" x2="535.70" y2="301.15" stroke="#222" stroke-width="1.2"/>
<line x1="302.10" y1="291.85" x2="311.40" y2="291.85" stroke="#222" stroke-width="1.2"/>
<line x1="540.30" y1="291.85" x2="531.00" y2="291.85" stroke="#222" stroke-width="1.2"/>
<line x1="302.10" y1="282.54" x2="306.70" y2="282.54" stroke="#222" stroke-width="1.2"/>
<line x1="540.30" y1="282.54" x2="535.70" y2="282.54" stroke="#222" stroke-width="1.2"/>
<line x1="302.10" y1="273.24" x2="306.70" y2="273.24" stroke="#222" stroke-width="1.2"/>
<line x1="540.30" y1="273.24" x2="535.70" y2="273.24" stroke="#222" stroke-width="1.2"/>
<line x1="302.10" y1="263.93" x2="306.70" y2="263.93" stroke="#222" stroke-width="1.2"/>
<line x1="540.30" y1="263.93" x2="535.70" y2="263.93" stroke="#222" stroke-width="1.2"/>
<line x1="302.10" y1="254.63" x2="306.70" y2="254.63" stroke="#222" stroke-width="1.2"/>
<line x1="540.30" y1="254.63" x2="535.70" y2="254.63" stroke="#222" stroke-width="1.2"/>
<line x1="302.10" y1="245.32" x2="311.40" y2="245.32" stroke="#222" stroke-width="1.2"/>
<line x1="540.30" y1="245.32" x2="531.00" y2="245.32" stroke="#222" stroke-width="1.2"/>
<line x1="302.10" y1="236.02" x2="306.70" y2="236.02" stroke="#222" stroke-width="1.2"/>
<line x1="540.30" y1="236.02" x2="535.70" y2="236.02" stroke="#222" stroke-width="1.2"/>
<line x1="302.10" y1="226.71" x2="306.70" y2="226.71" stroke="#222" stroke-width="1.2"/>
<line x1="540.30" y1="226.71" x2="535.70" y2="226.71" stroke="#222" stroke-width="1.2"/>
<rect x="63.6" y="49.9" width="476.70" height="335.00" fill="none" stroke="#222" stroke-width="1.2"/>
<line x1="302.10" y1="49.90" x2="302.10" y2="384.90" stroke="#222" stroke-width="1.2"/>
<line x1="63.60" y1="217.40" x2="540.30" y2="217.40" stroke="#222" stroke-width="1.2"/>
<text x="111.30" y="41.00" text-anchor="middle">1</text>
<text x="349.53" y="41.00" text-anchor="middle">1</text>
<text x="159.03" y="41.00" text-anchor="middle">2</text>
<text x="397.16" y="41.00" text-anchor="middle">2</text>
<text x="206.76" y="41.00" text-anchor="middle">3</text>
<text x="444.79" y="41.00" text-anchor="middle">3</text>
<text x="254.49" y="41.00" text-anchor="middle">4</text>
<text x="492.42" y="41.00" text-anchor="middle">4</text>
<text x="302.22" y="41.00" text-anchor="middle">5</text>
<text x="540.05" y="41.00" text-anchor="middle">5</text>
<text x="182.85" y="16.00" text-anchor="middle">a (AU)</text>
<text x="421.20" y="16.00" text-anchor="middle">a (AU)</text>
<text x="57.90" y="56.20" text-anchor="end">1</text>
<text x="57.90" y="89.70" text-anchor="end">0.8</text>
<text x="57.90" y="123.20" text-anchor="end">0.6</text>
<text x="57.90" y="156.70" text-anchor="end">0.4</text>
<text x="57.90" y="190.20" text-anchor="end">0.2</text>
<text x="57.90" y="391.20" text-anchor="end">0</text>
<text x="57.90" y="335.30" text-anchor="end">50</text>
<text x="57.90" y="279.40" text-anchor="end">100</text>
<text x="57.90" y="223.50" text-anchor="end">150</text>
<text x="546.70" y="223.70" text-anchor="start">0</text>
<text x="546.70" y="181.70" text-anchor="start">20</text>
<text x="546.70" y="139.70" text-anchor="start">40</text>
<text x="546.70" y="97.70" text-anchor="start">60</text>
<text x="546.70" y="55.70" text-anchor="start">80</text>
<text x="546.70" y="391.20" text-anchor="start">0</text>
<text x="546.70" y="344.68" text-anchor="start">50</text>
<text x="546.70" y="298.15" text-anchor="start">100</text>
<text x="546.70" y="251.62" text-anchor="start">150</text>
<text x="95.20" y="405.50" text-anchor="middle">14</text>
<text x="138.52" y="405.50" text-anchor="middle">16</text>
<text x="181.84" y="405.50" text-anchor="middle">18</text>
<text x="225.16" y="405.50" text-anchor="middle">20</text>
<text x="268.48" y="405.50" text-anchor="middle">22</text>
<text x="301.78" y="405.50" text-anchor="middle">0</text>
<text x="354.80" y="405.50" text-anchor="middle">2</text>
<text x="407.82" y="405.50" text-anchor="middle">4</text>
<text x="460.84" y="405.50" text-anchor="middle">6</text>
<text x="513.86" y="405.50" text-anchor="middle">8</text>
<text x="182.85" y="430.00" text-anchor="middle">absolute magnitude H</text>
<text x="421.20" y="430.00" text-anchor="middle">Tisserand parameter</text>
<text x="15.20" y="133.60" text-anchor="middle" transform="rotate(-90 15.20 133.60)">eccentricity</text>
<text x="15.20" y="300.40" text-anchor="middle" transform="rotate(-90 15.20 300.40)">number</text>
<text x="595.20" y="134.00" text-anchor="middle" transform="rotate(-90 595.20 134.00)">inclination (deg)</text>
<text x="595.20" y="301.00" text-anchor="middle" transform="rotate(-90 595.20 301.00)">number</text>
</svg>
</body></html>
